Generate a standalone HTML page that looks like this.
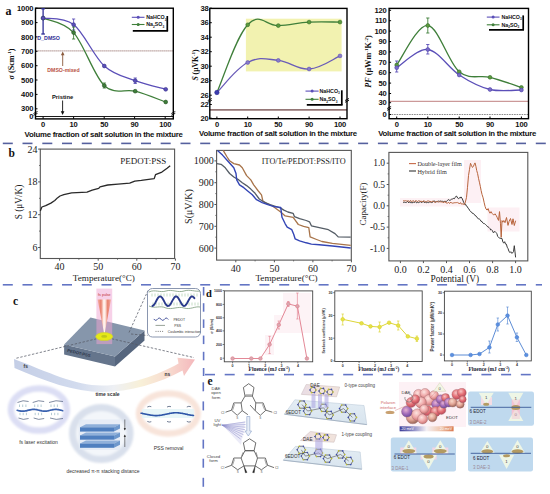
<!DOCTYPE html>
<html><head><meta charset="utf-8"><style>
html,body{margin:0;padding:0;background:#fff;}
body{width:550px;height:494px;overflow:hidden;font-family:"Liberation Sans",sans-serif;}
svg{display:block;}
</style></head><body>
<svg width="550" height="494" viewBox="0 0 550 494">
<rect width="550" height="494" fill="#ffffff"/>
<line x1="2.8" y1="143.4" x2="12.8" y2="143.4" stroke="#55609e" stroke-width="1.60" />
<line x1="22.5" y1="143.4" x2="32.5" y2="143.4" stroke="#55609e" stroke-width="1.60" />
<line x1="42.3" y1="143.4" x2="52.3" y2="143.4" stroke="#55609e" stroke-width="1.60" />
<line x1="62.0" y1="143.4" x2="72.0" y2="143.4" stroke="#55609e" stroke-width="1.60" />
<line x1="81.8" y1="143.4" x2="91.8" y2="143.4" stroke="#55609e" stroke-width="1.60" />
<line x1="101.5" y1="143.4" x2="111.5" y2="143.4" stroke="#55609e" stroke-width="1.60" />
<line x1="121.2" y1="143.4" x2="131.2" y2="143.4" stroke="#55609e" stroke-width="1.60" />
<line x1="141.0" y1="143.4" x2="151.0" y2="143.4" stroke="#55609e" stroke-width="1.60" />
<line x1="160.7" y1="143.4" x2="170.7" y2="143.4" stroke="#55609e" stroke-width="1.60" />
<line x1="180.5" y1="143.4" x2="190.5" y2="143.4" stroke="#55609e" stroke-width="1.60" />
<line x1="200.2" y1="143.4" x2="210.2" y2="143.4" stroke="#55609e" stroke-width="1.60" />
<line x1="219.9" y1="143.4" x2="229.9" y2="143.4" stroke="#55609e" stroke-width="1.60" />
<line x1="239.7" y1="143.4" x2="249.7" y2="143.4" stroke="#55609e" stroke-width="1.60" />
<line x1="259.4" y1="143.4" x2="269.4" y2="143.4" stroke="#55609e" stroke-width="1.60" />
<line x1="279.2" y1="143.4" x2="289.2" y2="143.4" stroke="#55609e" stroke-width="1.60" />
<line x1="298.9" y1="143.4" x2="308.9" y2="143.4" stroke="#55609e" stroke-width="1.60" />
<line x1="318.6" y1="143.4" x2="328.6" y2="143.4" stroke="#55609e" stroke-width="1.60" />
<line x1="338.4" y1="143.4" x2="348.4" y2="143.4" stroke="#55609e" stroke-width="1.60" />
<line x1="358.1" y1="143.4" x2="368.1" y2="143.4" stroke="#55609e" stroke-width="1.60" />
<line x1="377.9" y1="143.4" x2="387.9" y2="143.4" stroke="#55609e" stroke-width="1.60" />
<line x1="397.6" y1="143.4" x2="407.6" y2="143.4" stroke="#55609e" stroke-width="1.60" />
<line x1="417.3" y1="143.4" x2="427.3" y2="143.4" stroke="#55609e" stroke-width="1.60" />
<line x1="437.1" y1="143.4" x2="447.1" y2="143.4" stroke="#55609e" stroke-width="1.60" />
<line x1="456.8" y1="143.4" x2="466.8" y2="143.4" stroke="#55609e" stroke-width="1.60" />
<line x1="476.6" y1="143.4" x2="486.6" y2="143.4" stroke="#55609e" stroke-width="1.60" />
<line x1="496.3" y1="143.4" x2="506.3" y2="143.4" stroke="#55609e" stroke-width="1.60" />
<line x1="516.0" y1="143.4" x2="526.0" y2="143.4" stroke="#55609e" stroke-width="1.60" />
<line x1="535.8" y1="143.4" x2="545.8" y2="143.4" stroke="#55609e" stroke-width="1.60" />
<line x1="2.8" y1="284.8" x2="12.8" y2="284.8" stroke="#6375c4" stroke-width="1.60" />
<line x1="22.5" y1="284.8" x2="32.5" y2="284.8" stroke="#6375c4" stroke-width="1.60" />
<line x1="42.3" y1="284.8" x2="52.3" y2="284.8" stroke="#6375c4" stroke-width="1.60" />
<line x1="62.0" y1="284.8" x2="72.0" y2="284.8" stroke="#6375c4" stroke-width="1.60" />
<line x1="81.8" y1="284.8" x2="91.8" y2="284.8" stroke="#6375c4" stroke-width="1.60" />
<line x1="101.5" y1="284.8" x2="111.5" y2="284.8" stroke="#6375c4" stroke-width="1.60" />
<line x1="121.2" y1="284.8" x2="131.2" y2="284.8" stroke="#6375c4" stroke-width="1.60" />
<line x1="141.0" y1="284.8" x2="151.0" y2="284.8" stroke="#6375c4" stroke-width="1.60" />
<line x1="160.7" y1="284.8" x2="170.7" y2="284.8" stroke="#6375c4" stroke-width="1.60" />
<line x1="180.5" y1="284.8" x2="190.5" y2="284.8" stroke="#6375c4" stroke-width="1.60" />
<line x1="200.2" y1="284.8" x2="210.2" y2="284.8" stroke="#6375c4" stroke-width="1.60" />
<line x1="219.9" y1="284.8" x2="229.9" y2="284.8" stroke="#6375c4" stroke-width="1.60" />
<line x1="239.7" y1="284.8" x2="249.7" y2="284.8" stroke="#6375c4" stroke-width="1.60" />
<line x1="259.4" y1="284.8" x2="269.4" y2="284.8" stroke="#6375c4" stroke-width="1.60" />
<line x1="279.2" y1="284.8" x2="289.2" y2="284.8" stroke="#6375c4" stroke-width="1.60" />
<line x1="298.9" y1="284.8" x2="308.9" y2="284.8" stroke="#6375c4" stroke-width="1.60" />
<line x1="318.6" y1="284.8" x2="328.6" y2="284.8" stroke="#6375c4" stroke-width="1.60" />
<line x1="338.4" y1="284.8" x2="348.4" y2="284.8" stroke="#6375c4" stroke-width="1.60" />
<line x1="358.1" y1="284.8" x2="368.1" y2="284.8" stroke="#6375c4" stroke-width="1.60" />
<line x1="377.9" y1="284.8" x2="387.9" y2="284.8" stroke="#6375c4" stroke-width="1.60" />
<line x1="397.6" y1="284.8" x2="407.6" y2="284.8" stroke="#6375c4" stroke-width="1.60" />
<line x1="417.3" y1="284.8" x2="427.3" y2="284.8" stroke="#6375c4" stroke-width="1.60" />
<line x1="437.1" y1="284.8" x2="447.1" y2="284.8" stroke="#6375c4" stroke-width="1.60" />
<line x1="456.8" y1="284.8" x2="466.8" y2="284.8" stroke="#6375c4" stroke-width="1.60" />
<line x1="476.6" y1="284.8" x2="486.6" y2="284.8" stroke="#6375c4" stroke-width="1.60" />
<line x1="496.3" y1="284.8" x2="506.3" y2="284.8" stroke="#6375c4" stroke-width="1.60" />
<line x1="516.0" y1="284.8" x2="526.0" y2="284.8" stroke="#6375c4" stroke-width="1.60" />
<line x1="535.8" y1="284.8" x2="542.0" y2="284.8" stroke="#6375c4" stroke-width="1.60" />
<line x1="203.6" y1="287.0" x2="203.6" y2="295.5" stroke="#6375c4" stroke-width="1.60" />
<line x1="203.6" y1="303.2" x2="203.6" y2="311.7" stroke="#6375c4" stroke-width="1.60" />
<line x1="203.6" y1="319.4" x2="203.6" y2="327.9" stroke="#6375c4" stroke-width="1.60" />
<line x1="203.6" y1="335.6" x2="203.6" y2="344.1" stroke="#6375c4" stroke-width="1.60" />
<line x1="203.6" y1="351.8" x2="203.6" y2="360.3" stroke="#6375c4" stroke-width="1.60" />
<line x1="203.6" y1="368.0" x2="203.6" y2="376.0" stroke="#6375c4" stroke-width="1.60" />
<line x1="203.3" y1="382.3" x2="203.3" y2="391.3" stroke="#6375c4" stroke-width="1.60" />
<line x1="203.3" y1="401.4" x2="203.3" y2="410.4" stroke="#6375c4" stroke-width="1.60" />
<line x1="203.3" y1="420.5" x2="203.3" y2="429.5" stroke="#6375c4" stroke-width="1.60" />
<line x1="203.3" y1="439.6" x2="203.3" y2="448.6" stroke="#6375c4" stroke-width="1.60" />
<line x1="203.3" y1="458.7" x2="203.3" y2="467.7" stroke="#6375c4" stroke-width="1.60" />
<line x1="203.3" y1="477.8" x2="203.3" y2="486.8" stroke="#6375c4" stroke-width="1.60" />
<line x1="205.0" y1="374.6" x2="215.0" y2="374.6" stroke="#6375c4" stroke-width="1.60" />
<line x1="224.7" y1="374.6" x2="234.7" y2="374.6" stroke="#6375c4" stroke-width="1.60" />
<line x1="244.5" y1="374.6" x2="254.5" y2="374.6" stroke="#6375c4" stroke-width="1.60" />
<line x1="264.2" y1="374.6" x2="274.2" y2="374.6" stroke="#6375c4" stroke-width="1.60" />
<line x1="284.0" y1="374.6" x2="294.0" y2="374.6" stroke="#6375c4" stroke-width="1.60" />
<line x1="303.7" y1="374.6" x2="313.7" y2="374.6" stroke="#6375c4" stroke-width="1.60" />
<line x1="323.4" y1="374.6" x2="333.4" y2="374.6" stroke="#6375c4" stroke-width="1.60" />
<line x1="343.2" y1="374.6" x2="353.2" y2="374.6" stroke="#6375c4" stroke-width="1.60" />
<line x1="362.9" y1="374.6" x2="372.9" y2="374.6" stroke="#6375c4" stroke-width="1.60" />
<line x1="382.7" y1="374.6" x2="392.7" y2="374.6" stroke="#6375c4" stroke-width="1.60" />
<line x1="402.4" y1="374.6" x2="412.4" y2="374.6" stroke="#6375c4" stroke-width="1.60" />
<line x1="422.1" y1="374.6" x2="432.1" y2="374.6" stroke="#6375c4" stroke-width="1.60" />
<line x1="441.9" y1="374.6" x2="451.9" y2="374.6" stroke="#6375c4" stroke-width="1.60" />
<line x1="461.6" y1="374.6" x2="471.6" y2="374.6" stroke="#6375c4" stroke-width="1.60" />
<line x1="481.4" y1="374.6" x2="491.4" y2="374.6" stroke="#6375c4" stroke-width="1.60" />
<line x1="501.1" y1="374.6" x2="511.1" y2="374.6" stroke="#6375c4" stroke-width="1.60" />
<line x1="520.8" y1="374.6" x2="530.8" y2="374.6" stroke="#6375c4" stroke-width="1.60" />
<text x="5.5" y="15.0" font-family="Liberation Serif" font-size="12.00" font-weight="bold" fill="#111" text-anchor="start"  >a</text>
<line x1="35.5" y1="50.9" x2="173.3" y2="50.9" stroke="#a98a86" stroke-width="1.20" stroke-dasharray="1.2,0.8"/>
<line x1="35.5" y1="116.5" x2="173.3" y2="116.5" stroke="#000" stroke-width="0.90" />
<rect x="35.5" y="8.2" width="137.8" height="110.7" fill="none" stroke="#000" stroke-width="1.40" />
<line x1="35.5" y1="108.8" x2="37.5" y2="108.8" stroke="#000" stroke-width="1.00" />
<text x="33.2" y="111.4" font-family="Liberation Sans" font-size="7.60" font-weight="bold" fill="#111" text-anchor="end"  letter-spacing="-0.2">300</text>
<line x1="35.5" y1="94.4" x2="37.5" y2="94.4" stroke="#000" stroke-width="1.00" />
<text x="33.2" y="97.0" font-family="Liberation Sans" font-size="7.60" font-weight="bold" fill="#111" text-anchor="end"  letter-spacing="-0.2">400</text>
<line x1="35.5" y1="80.0" x2="37.5" y2="80.0" stroke="#000" stroke-width="1.00" />
<text x="33.2" y="82.6" font-family="Liberation Sans" font-size="7.60" font-weight="bold" fill="#111" text-anchor="end"  letter-spacing="-0.2">500</text>
<line x1="35.5" y1="65.7" x2="37.5" y2="65.7" stroke="#000" stroke-width="1.00" />
<text x="33.2" y="68.3" font-family="Liberation Sans" font-size="7.60" font-weight="bold" fill="#111" text-anchor="end"  letter-spacing="-0.2">600</text>
<line x1="35.5" y1="51.3" x2="37.5" y2="51.3" stroke="#000" stroke-width="1.00" />
<text x="33.2" y="53.9" font-family="Liberation Sans" font-size="7.60" font-weight="bold" fill="#111" text-anchor="end"  letter-spacing="-0.2">700</text>
<line x1="35.5" y1="36.9" x2="37.5" y2="36.9" stroke="#000" stroke-width="1.00" />
<text x="33.2" y="39.5" font-family="Liberation Sans" font-size="7.60" font-weight="bold" fill="#111" text-anchor="end"  letter-spacing="-0.2">800</text>
<line x1="35.5" y1="22.6" x2="37.5" y2="22.6" stroke="#000" stroke-width="1.00" />
<text x="33.2" y="25.2" font-family="Liberation Sans" font-size="7.60" font-weight="bold" fill="#111" text-anchor="end"  letter-spacing="-0.2">900</text>
<line x1="35.5" y1="8.2" x2="37.5" y2="8.2" stroke="#000" stroke-width="1.00" />
<text x="33.2" y="10.8" font-family="Liberation Sans" font-size="7.60" font-weight="bold" fill="#111" text-anchor="end"  letter-spacing="-0.2">1000</text>
<text x="33.2" y="119.1" font-family="Liberation Sans" font-size="7.60" font-weight="bold" fill="#111" text-anchor="end"  letter-spacing="-0.2">0</text>
<line x1="43.1" y1="118.9" x2="43.1" y2="116.7" stroke="#000" stroke-width="1.00" />
<text x="43.1" y="127.0" font-family="Liberation Sans" font-size="7.60" font-weight="bold" fill="#111" text-anchor="middle"  letter-spacing="-0.2">0</text>
<line x1="73.6" y1="118.9" x2="73.6" y2="116.7" stroke="#000" stroke-width="1.00" />
<text x="73.6" y="127.0" font-family="Liberation Sans" font-size="7.60" font-weight="bold" fill="#111" text-anchor="middle"  letter-spacing="-0.2">10</text>
<line x1="104.2" y1="118.9" x2="104.2" y2="116.7" stroke="#000" stroke-width="1.00" />
<text x="104.2" y="127.0" font-family="Liberation Sans" font-size="7.60" font-weight="bold" fill="#111" text-anchor="middle"  letter-spacing="-0.2">50</text>
<line x1="134.6" y1="118.9" x2="134.6" y2="116.7" stroke="#000" stroke-width="1.00" />
<text x="134.6" y="127.0" font-family="Liberation Sans" font-size="7.60" font-weight="bold" fill="#111" text-anchor="middle"  letter-spacing="-0.2">90</text>
<line x1="165.2" y1="118.9" x2="165.2" y2="116.7" stroke="#000" stroke-width="1.00" />
<text x="165.2" y="127.0" font-family="Liberation Sans" font-size="7.60" font-weight="bold" fill="#111" text-anchor="middle"  letter-spacing="-0.2">100</text>
<line x1="33.5" y1="113.5" x2="37.5" y2="111.5" stroke="#000" stroke-width="0.90" />
<line x1="33.5" y1="115.3" x2="37.5" y2="113.3" stroke="#000" stroke-width="0.90" />
<line x1="171.3" y1="113.5" x2="175.3" y2="111.5" stroke="#000" stroke-width="0.90" />
<line x1="171.3" y1="115.3" x2="175.3" y2="113.3" stroke="#000" stroke-width="0.90" />
<path d="M43.1,18.1 C48.2,20.5 63.4,21.4 73.6,32.6 C83.8,43.9 94.0,75.8 104.3,85.6 C114.6,95.4 125.0,88.5 135.2,91.2 C145.4,93.9 160.6,100.2 165.7,102.0" fill="none" stroke="#3f7f3a" stroke-width="1.30" />
<path d="M43.1,18.1 C48.2,19.2 63.4,16.6 73.6,24.6 C83.8,32.6 94.0,56.6 104.3,66.0 C114.6,75.3 125.0,76.8 135.2,80.7 C145.4,84.6 160.6,87.9 165.7,89.3" fill="none" stroke="#5b4fb8" stroke-width="1.30" />
<line x1="43.1" y1="8.8" x2="43.1" y2="34.0" stroke="#2e2e96" stroke-width="1.30" />
<line x1="41.3" y1="8.8" x2="44.9" y2="8.8" stroke="#2e2e96" stroke-width="1.30" />
<line x1="41.3" y1="34.0" x2="44.9" y2="34.0" stroke="#2e2e96" stroke-width="1.30" />
<line x1="73.6" y1="19.0" x2="73.6" y2="30.0" stroke="#5b4fb8" stroke-width="0.90" />
<line x1="72.0" y1="19.0" x2="75.2" y2="19.0" stroke="#5b4fb8" stroke-width="0.90" />
<line x1="72.0" y1="30.0" x2="75.2" y2="30.0" stroke="#5b4fb8" stroke-width="0.90" />
<line x1="73.6" y1="27.0" x2="73.6" y2="39.0" stroke="#3f7f3a" stroke-width="0.90" />
<line x1="72.0" y1="27.0" x2="75.2" y2="27.0" stroke="#3f7f3a" stroke-width="0.90" />
<line x1="72.0" y1="39.0" x2="75.2" y2="39.0" stroke="#3f7f3a" stroke-width="0.90" />
<line x1="135.2" y1="78.0" x2="135.2" y2="83.5" stroke="#5b4fb8" stroke-width="0.90" />
<line x1="133.6" y1="78.0" x2="136.8" y2="78.0" stroke="#5b4fb8" stroke-width="0.90" />
<line x1="133.6" y1="83.5" x2="136.8" y2="83.5" stroke="#5b4fb8" stroke-width="0.90" />
<line x1="104.3" y1="83.0" x2="104.3" y2="88.0" stroke="#3f7f3a" stroke-width="0.90" />
<line x1="102.7" y1="83.0" x2="105.9" y2="83.0" stroke="#3f7f3a" stroke-width="0.90" />
<line x1="102.7" y1="88.0" x2="105.9" y2="88.0" stroke="#3f7f3a" stroke-width="0.90" />
<circle cx="43.1" cy="18.1" r="1.9" fill="#3f7f3a" stroke="#234d22" stroke-width="0.60" />
<circle cx="73.6" cy="32.6" r="1.9" fill="#3f7f3a" stroke="#234d22" stroke-width="0.60" />
<circle cx="104.3" cy="85.6" r="1.9" fill="#3f7f3a" stroke="#234d22" stroke-width="0.60" />
<circle cx="135.2" cy="91.2" r="1.9" fill="#3f7f3a" stroke="#234d22" stroke-width="0.60" />
<circle cx="165.7" cy="102.0" r="1.9" fill="#3f7f3a" stroke="#234d22" stroke-width="0.60" />
<circle cx="43.1" cy="18.1" r="1.9" fill="#5b4fb8" stroke="#35308a" stroke-width="0.60" />
<circle cx="73.6" cy="24.6" r="1.9" fill="#5b4fb8" stroke="#35308a" stroke-width="0.60" />
<circle cx="104.3" cy="66.0" r="1.9" fill="#5b4fb8" stroke="#35308a" stroke-width="0.60" />
<circle cx="135.2" cy="80.7" r="1.9" fill="#5b4fb8" stroke="#35308a" stroke-width="0.60" />
<circle cx="165.7" cy="89.3" r="1.9" fill="#5b4fb8" stroke="#35308a" stroke-width="0.60" />
<text x="37.3" y="39.6" font-family="Liberation Sans" font-size="5.30" font-weight="bold" fill="#2e2e96" text-anchor="start"  >D_DMSO</text>
<line x1="62.7" y1="66.0" x2="62.7" y2="53.5" stroke="#8b5a3c" stroke-width="0.90" />
<path d="M60.9,55.2 L62.7,51.6 L64.5,55.2 Z" fill="#8b5a3c" stroke="none" stroke-width="1.00" />
<text x="63.5" y="71.8" font-family="Liberation Sans" font-size="5.20" font-weight="bold" fill="#b8503f" text-anchor="middle"  >DMSO-mixed</text>
<text x="62.6" y="98.8" font-family="Liberation Sans" font-size="5.80" font-weight="bold" fill="#111" text-anchor="middle"  >Pristine</text>
<line x1="62.6" y1="100.5" x2="62.6" y2="112.5" stroke="#111" stroke-width="0.90" />
<path d="M60.8,111.2 L62.6,115 L64.4,111.2 Z" fill="#111" stroke="none" stroke-width="1.00" />
<line x1="132.8" y1="30.9" x2="168.1" y2="30.9" stroke="#000" stroke-width="1.70" />
<line x1="167.3" y1="16.0" x2="167.3" y2="30.9" stroke="#000" stroke-width="1.70" />
<line x1="131.8" y1="17.3" x2="144.5" y2="17.3" stroke="#5b4fb8" stroke-width="1.10" />
<circle cx="138.2" cy="17.3" r="1.5" fill="#5b4fb8" stroke="none" stroke-width="1.00" />
<text x="146.2" y="19.2" font-family="Liberation Sans" font-size="5.30" font-weight="bold" fill="#111" text-anchor="start"  >NaHCO<tspan font-size="3.2" dy="1.3">3</tspan></text>
<line x1="131.8" y1="24.5" x2="144.5" y2="24.5" stroke="#3f7f3a" stroke-width="1.10" />
<circle cx="138.2" cy="24.5" r="1.5" fill="#3f7f3a" stroke="none" stroke-width="1.00" />
<text x="146.2" y="26.4" font-family="Liberation Sans" font-size="5.30" font-weight="bold" fill="#111" text-anchor="start"  >Na<tspan font-size="3.2" dy="1.3">2</tspan><tspan dy="-1.3">SO</tspan><tspan font-size="3.2" dy="1.3">3</tspan></text>
<text transform="translate(14.2,64) rotate(-90)" font-family="Liberation Serif" font-size="8.2" font-weight="bold" fill="#111" text-anchor="middle"><tspan font-style="italic">σ</tspan> (Scm<tspan font-size="5" dy="-3">-1</tspan><tspan dy="3">)</tspan></text>
<text x="24.6" y="136.5" font-family="Liberation Sans" font-size="7.80" font-weight="bold" fill="#111" text-anchor="start"  letter-spacing="-0.24">Volume fraction of salt solution in the mixture</text>
<rect x="245.9" y="18.7" width="95.7" height="52.7" fill="#f2f2b0" stroke="none" stroke-width="1.00" />
<line x1="209.8" y1="109.9" x2="347.0" y2="109.9" stroke="#957676" stroke-width="1.60" />
<rect x="209.8" y="8.4" width="137.2" height="110.3" fill="none" stroke="#000" stroke-width="1.40" />
<line x1="209.8" y1="95.2" x2="211.8" y2="95.2" stroke="#000" stroke-width="1.00" />
<text x="208.5" y="97.8" font-family="Liberation Sans" font-size="7.60" font-weight="bold" fill="#111" text-anchor="end"  letter-spacing="-0.2">26</text>
<line x1="209.8" y1="80.7" x2="211.8" y2="80.7" stroke="#000" stroke-width="1.00" />
<text x="208.5" y="83.3" font-family="Liberation Sans" font-size="7.60" font-weight="bold" fill="#111" text-anchor="end"  letter-spacing="-0.2">28</text>
<line x1="209.8" y1="66.2" x2="211.8" y2="66.2" stroke="#000" stroke-width="1.00" />
<text x="208.5" y="68.8" font-family="Liberation Sans" font-size="7.60" font-weight="bold" fill="#111" text-anchor="end"  letter-spacing="-0.2">30</text>
<line x1="209.8" y1="51.7" x2="211.8" y2="51.7" stroke="#000" stroke-width="1.00" />
<text x="208.5" y="54.3" font-family="Liberation Sans" font-size="7.60" font-weight="bold" fill="#111" text-anchor="end"  letter-spacing="-0.2">32</text>
<line x1="209.8" y1="37.2" x2="211.8" y2="37.2" stroke="#000" stroke-width="1.00" />
<text x="208.5" y="39.8" font-family="Liberation Sans" font-size="7.60" font-weight="bold" fill="#111" text-anchor="end"  letter-spacing="-0.2">34</text>
<line x1="209.8" y1="22.7" x2="211.8" y2="22.7" stroke="#000" stroke-width="1.00" />
<text x="208.5" y="25.3" font-family="Liberation Sans" font-size="7.60" font-weight="bold" fill="#111" text-anchor="end"  letter-spacing="-0.2">36</text>
<line x1="209.8" y1="8.2" x2="211.8" y2="8.2" stroke="#000" stroke-width="1.00" />
<text x="208.5" y="10.8" font-family="Liberation Sans" font-size="7.60" font-weight="bold" fill="#111" text-anchor="end"  letter-spacing="-0.2">38</text>
<line x1="209.8" y1="104.5" x2="211.8" y2="104.5" stroke="#000" stroke-width="1.00" />
<text x="208.5" y="107.1" font-family="Liberation Sans" font-size="7.60" font-weight="bold" fill="#111" text-anchor="end"  letter-spacing="-0.2">22</text>
<line x1="209.8" y1="118.2" x2="211.8" y2="118.2" stroke="#000" stroke-width="1.00" />
<text x="208.5" y="120.8" font-family="Liberation Sans" font-size="7.60" font-weight="bold" fill="#111" text-anchor="end"  letter-spacing="-0.2">20</text>
<line x1="216.9" y1="118.7" x2="216.9" y2="116.5" stroke="#000" stroke-width="1.00" />
<text x="216.9" y="127.0" font-family="Liberation Sans" font-size="7.60" font-weight="bold" fill="#111" text-anchor="middle"  letter-spacing="-0.2">0</text>
<line x1="247.7" y1="118.7" x2="247.7" y2="116.5" stroke="#000" stroke-width="1.00" />
<text x="247.7" y="127.0" font-family="Liberation Sans" font-size="7.60" font-weight="bold" fill="#111" text-anchor="middle"  letter-spacing="-0.2">10</text>
<line x1="278.3" y1="118.7" x2="278.3" y2="116.5" stroke="#000" stroke-width="1.00" />
<text x="278.3" y="127.0" font-family="Liberation Sans" font-size="7.60" font-weight="bold" fill="#111" text-anchor="middle"  letter-spacing="-0.2">50</text>
<line x1="309.1" y1="118.7" x2="309.1" y2="116.5" stroke="#000" stroke-width="1.00" />
<text x="309.1" y="127.0" font-family="Liberation Sans" font-size="7.60" font-weight="bold" fill="#111" text-anchor="middle"  letter-spacing="-0.2">90</text>
<line x1="340.0" y1="118.7" x2="340.0" y2="116.5" stroke="#000" stroke-width="1.00" />
<text x="340.0" y="127.0" font-family="Liberation Sans" font-size="7.60" font-weight="bold" fill="#111" text-anchor="middle"  letter-spacing="-0.2">100</text>
<line x1="207.8" y1="100.5" x2="211.8" y2="98.5" stroke="#000" stroke-width="0.90" />
<line x1="207.8" y1="102.3" x2="211.8" y2="100.3" stroke="#000" stroke-width="0.90" />
<line x1="345.0" y1="100.5" x2="349.0" y2="98.5" stroke="#000" stroke-width="0.90" />
<line x1="345.0" y1="102.3" x2="349.0" y2="100.3" stroke="#000" stroke-width="0.90" />
<path d="M216.9,92.5 C223.1,79.0 235.4,38.2 247.7,24.8 C260.0,11.4 266.0,26.1 278.3,25.6 C290.6,25.1 296.8,22.8 309.1,22.1 C321.4,21.4 333.8,22.1 340.0,22.1" fill="none" stroke="#3f7f3a" stroke-width="1.30" />
<path d="M216.9,92.5 C223.1,86.5 235.4,68.9 247.7,62.5 C260.0,56.1 266.0,59.1 278.3,60.4 C290.6,61.7 296.8,69.9 309.1,69.0 C321.4,68.1 333.8,58.5 340.0,55.9" fill="none" stroke="#6a5cb8" stroke-width="1.30" />
<circle cx="247.7" cy="24.8" r="1.9" fill="#5c9a3c" stroke="#2f6a2a" stroke-width="0.60" />
<circle cx="278.3" cy="25.6" r="1.9" fill="#5c9a3c" stroke="#2f6a2a" stroke-width="0.60" />
<circle cx="309.1" cy="22.1" r="1.9" fill="#5c9a3c" stroke="#2f6a2a" stroke-width="0.60" />
<circle cx="340.0" cy="22.1" r="1.9" fill="#5c9a3c" stroke="#2f6a2a" stroke-width="0.60" />
<circle cx="247.7" cy="62.5" r="1.9" fill="#8a7cc8" stroke="#5b4fb8" stroke-width="0.60" />
<circle cx="278.3" cy="60.4" r="1.9" fill="#8a7cc8" stroke="#5b4fb8" stroke-width="0.60" />
<circle cx="309.1" cy="69.0" r="1.9" fill="#8a7cc8" stroke="#5b4fb8" stroke-width="0.60" />
<circle cx="340.0" cy="55.9" r="1.9" fill="#8a7cc8" stroke="#5b4fb8" stroke-width="0.60" />
<circle cx="216.9" cy="92.5" r="2.2" fill="#3c3cb0" stroke="#2a2a90" stroke-width="0.60" />
<line x1="306.8" y1="104.8" x2="342.6" y2="104.8" stroke="#000" stroke-width="1.70" />
<line x1="341.8" y1="90.3" x2="341.8" y2="104.8" stroke="#000" stroke-width="1.70" />
<line x1="305.5" y1="91.1" x2="318.6" y2="91.1" stroke="#5b4fb8" stroke-width="1.10" />
<circle cx="312.1" cy="91.1" r="1.5" fill="#5b4fb8" stroke="none" stroke-width="1.00" />
<text x="319.5" y="93.0" font-family="Liberation Sans" font-size="5.30" font-weight="bold" fill="#111" text-anchor="start"  >NaHCO<tspan font-size="3.2" dy="1.3">3</tspan></text>
<line x1="305.5" y1="99.3" x2="318.6" y2="99.3" stroke="#3f7f3a" stroke-width="1.10" />
<circle cx="312.1" cy="99.3" r="1.5" fill="#3f7f3a" stroke="none" stroke-width="1.00" />
<text x="319.5" y="101.2" font-family="Liberation Sans" font-size="5.30" font-weight="bold" fill="#111" text-anchor="start"  >Na<tspan font-size="3.2" dy="1.3">2</tspan><tspan dy="-1.3">SO</tspan><tspan font-size="3.2" dy="1.3">3</tspan></text>
<text transform="translate(198.3,65) rotate(-90)" font-family="Liberation Serif" font-size="7.6" font-weight="bold" fill="#111" text-anchor="middle"><tspan font-style="italic">S</tspan> (μVK<tspan font-size="5" dy="-3">-1</tspan><tspan dy="3">)</tspan></text>
<text x="199.0" y="136.4" font-family="Liberation Sans" font-size="7.80" font-weight="bold" fill="#111" text-anchor="start"  letter-spacing="-0.24">Volume fraction of salt solution in the mixture</text>
<line x1="389.1" y1="101.3" x2="528.5" y2="101.3" stroke="#c08080" stroke-width="1.00" />
<line x1="389.1" y1="114.5" x2="528.5" y2="114.5" stroke="#8a8a8a" stroke-width="1.20" stroke-dasharray="1.6,0.9"/>
<rect x="389.1" y="8.4" width="139.4" height="110.3" fill="none" stroke="#000" stroke-width="1.40" />
<line x1="389.1" y1="102.7" x2="391.1" y2="102.7" stroke="#000" stroke-width="1.00" />
<text x="386.6" y="105.3" font-family="Liberation Sans" font-size="7.60" font-weight="bold" fill="#111" text-anchor="end"  letter-spacing="-0.2">30</text>
<line x1="389.1" y1="93.5" x2="391.1" y2="93.5" stroke="#000" stroke-width="1.00" />
<text x="386.6" y="96.1" font-family="Liberation Sans" font-size="7.60" font-weight="bold" fill="#111" text-anchor="end"  letter-spacing="-0.2">40</text>
<line x1="389.1" y1="83.1" x2="391.1" y2="83.1" stroke="#000" stroke-width="1.00" />
<text x="386.6" y="85.7" font-family="Liberation Sans" font-size="7.60" font-weight="bold" fill="#111" text-anchor="end"  letter-spacing="-0.2">50</text>
<line x1="389.1" y1="72.7" x2="391.1" y2="72.7" stroke="#000" stroke-width="1.00" />
<text x="386.6" y="75.3" font-family="Liberation Sans" font-size="7.60" font-weight="bold" fill="#111" text-anchor="end"  letter-spacing="-0.2">60</text>
<line x1="389.1" y1="62.3" x2="391.1" y2="62.3" stroke="#000" stroke-width="1.00" />
<text x="386.6" y="64.9" font-family="Liberation Sans" font-size="7.60" font-weight="bold" fill="#111" text-anchor="end"  letter-spacing="-0.2">70</text>
<line x1="389.1" y1="51.9" x2="391.1" y2="51.9" stroke="#000" stroke-width="1.00" />
<text x="386.6" y="54.5" font-family="Liberation Sans" font-size="7.60" font-weight="bold" fill="#111" text-anchor="end"  letter-spacing="-0.2">80</text>
<line x1="389.1" y1="41.5" x2="391.1" y2="41.5" stroke="#000" stroke-width="1.00" />
<text x="386.6" y="44.1" font-family="Liberation Sans" font-size="7.60" font-weight="bold" fill="#111" text-anchor="end"  letter-spacing="-0.2">90</text>
<line x1="389.1" y1="31.1" x2="391.1" y2="31.1" stroke="#000" stroke-width="1.00" />
<text x="386.6" y="33.7" font-family="Liberation Sans" font-size="7.60" font-weight="bold" fill="#111" text-anchor="end"  letter-spacing="-0.2">100</text>
<line x1="389.1" y1="20.7" x2="391.1" y2="20.7" stroke="#000" stroke-width="1.00" />
<text x="386.6" y="23.3" font-family="Liberation Sans" font-size="7.60" font-weight="bold" fill="#111" text-anchor="end"  letter-spacing="-0.2">110</text>
<line x1="389.1" y1="10.3" x2="391.1" y2="10.3" stroke="#000" stroke-width="1.00" />
<text x="386.6" y="12.9" font-family="Liberation Sans" font-size="7.60" font-weight="bold" fill="#111" text-anchor="end"  letter-spacing="-0.2">120</text>
<line x1="389.1" y1="114.5" x2="391.1" y2="114.5" stroke="#000" stroke-width="1.00" />
<text x="386.6" y="117.1" font-family="Liberation Sans" font-size="7.60" font-weight="bold" fill="#111" text-anchor="end"  letter-spacing="-0.2">0</text>
<line x1="387.1" y1="108.5" x2="391.1" y2="106.5" stroke="#000" stroke-width="0.90" />
<line x1="387.1" y1="110.3" x2="391.1" y2="108.3" stroke="#000" stroke-width="0.90" />
<line x1="396.7" y1="118.7" x2="396.7" y2="116.5" stroke="#000" stroke-width="1.00" />
<text x="396.7" y="127.0" font-family="Liberation Sans" font-size="7.60" font-weight="bold" fill="#111" text-anchor="middle"  letter-spacing="-0.2">0</text>
<line x1="427.8" y1="118.7" x2="427.8" y2="116.5" stroke="#000" stroke-width="1.00" />
<text x="427.8" y="127.0" font-family="Liberation Sans" font-size="7.60" font-weight="bold" fill="#111" text-anchor="middle"  letter-spacing="-0.2">10</text>
<line x1="459.2" y1="118.7" x2="459.2" y2="116.5" stroke="#000" stroke-width="1.00" />
<text x="459.2" y="127.0" font-family="Liberation Sans" font-size="7.60" font-weight="bold" fill="#111" text-anchor="middle"  letter-spacing="-0.2">50</text>
<line x1="490.0" y1="118.7" x2="490.0" y2="116.5" stroke="#000" stroke-width="1.00" />
<text x="490.0" y="127.0" font-family="Liberation Sans" font-size="7.60" font-weight="bold" fill="#111" text-anchor="middle"  letter-spacing="-0.2">90</text>
<line x1="521.4" y1="118.7" x2="521.4" y2="116.5" stroke="#000" stroke-width="1.00" />
<text x="521.4" y="127.0" font-family="Liberation Sans" font-size="7.60" font-weight="bold" fill="#111" text-anchor="middle"  letter-spacing="-0.2">100</text>
<path d="M396.7,65.0 C401.9,58.4 417.4,24.4 427.8,25.5 C438.2,26.6 448.8,63.2 459.2,71.8 C469.6,80.4 479.6,74.7 490.0,77.3 C500.4,79.9 516.2,85.7 521.4,87.4" fill="none" stroke="#3f7f3a" stroke-width="1.30" />
<path d="M396.7,67.7 C401.9,64.7 417.4,48.3 427.8,49.5 C438.2,50.7 448.8,68.3 459.2,75.0 C469.6,81.7 479.6,87.0 490.0,89.5 C500.4,92.0 516.2,89.9 521.4,90.0" fill="none" stroke="#5b4fb8" stroke-width="1.30" />
<line x1="427.8" y1="18.0" x2="427.8" y2="33.0" stroke="#3f7f3a" stroke-width="0.90" />
<line x1="426.2" y1="18.0" x2="429.4" y2="18.0" stroke="#3f7f3a" stroke-width="0.90" />
<line x1="426.2" y1="33.0" x2="429.4" y2="33.0" stroke="#3f7f3a" stroke-width="0.90" />
<line x1="427.8" y1="44.5" x2="427.8" y2="54.0" stroke="#5b4fb8" stroke-width="0.90" />
<line x1="426.2" y1="44.5" x2="429.4" y2="44.5" stroke="#5b4fb8" stroke-width="0.90" />
<line x1="426.2" y1="54.0" x2="429.4" y2="54.0" stroke="#5b4fb8" stroke-width="0.90" />
<line x1="396.7" y1="61.0" x2="396.7" y2="72.0" stroke="#5b4fb8" stroke-width="0.90" />
<line x1="395.1" y1="61.0" x2="398.3" y2="61.0" stroke="#5b4fb8" stroke-width="0.90" />
<line x1="395.1" y1="72.0" x2="398.3" y2="72.0" stroke="#5b4fb8" stroke-width="0.90" />
<circle cx="396.7" cy="65.0" r="1.9" fill="#5c9a3c" stroke="#2f6a2a" stroke-width="0.60" />
<circle cx="427.8" cy="25.5" r="1.9" fill="#5c9a3c" stroke="#2f6a2a" stroke-width="0.60" />
<circle cx="459.2" cy="71.8" r="1.9" fill="#5c9a3c" stroke="#2f6a2a" stroke-width="0.60" />
<circle cx="490.0" cy="77.3" r="1.9" fill="#5c9a3c" stroke="#2f6a2a" stroke-width="0.60" />
<circle cx="521.4" cy="87.4" r="1.9" fill="#5c9a3c" stroke="#2f6a2a" stroke-width="0.60" />
<circle cx="396.7" cy="67.7" r="1.9" fill="#7a6cc8" stroke="#4b3fa8" stroke-width="0.60" />
<circle cx="427.8" cy="49.5" r="1.9" fill="#7a6cc8" stroke="#4b3fa8" stroke-width="0.60" />
<circle cx="459.2" cy="75.0" r="1.9" fill="#7a6cc8" stroke="#4b3fa8" stroke-width="0.60" />
<circle cx="490.0" cy="89.5" r="1.9" fill="#7a6cc8" stroke="#4b3fa8" stroke-width="0.60" />
<circle cx="521.4" cy="90.0" r="1.9" fill="#7a6cc8" stroke="#4b3fa8" stroke-width="0.60" />
<line x1="489.0" y1="29.8" x2="524.0" y2="29.8" stroke="#000" stroke-width="1.70" />
<line x1="523.2" y1="15.4" x2="523.2" y2="29.8" stroke="#000" stroke-width="1.70" />
<line x1="486.8" y1="17.1" x2="499.5" y2="17.1" stroke="#5b4fb8" stroke-width="1.10" />
<circle cx="493.1" cy="17.1" r="1.5" fill="#5b4fb8" stroke="none" stroke-width="1.00" />
<text x="501.4" y="19.0" font-family="Liberation Sans" font-size="5.30" font-weight="bold" fill="#111" text-anchor="start"  >NaHCO<tspan font-size="3.2" dy="1.3">3</tspan></text>
<line x1="486.8" y1="24.8" x2="499.5" y2="24.8" stroke="#3f7f3a" stroke-width="1.10" />
<circle cx="493.1" cy="24.8" r="1.5" fill="#3f7f3a" stroke="none" stroke-width="1.00" />
<text x="501.4" y="26.7" font-family="Liberation Sans" font-size="5.30" font-weight="bold" fill="#111" text-anchor="start"  >Na<tspan font-size="3.2" dy="1.3">2</tspan><tspan dy="-1.3">SO</tspan><tspan font-size="3.2" dy="1.3">3</tspan></text>
<text transform="translate(370.5,61.5) rotate(-90)" font-family="Liberation Serif" font-size="8.2" font-weight="bold" fill="#111" text-anchor="middle"><tspan font-style="italic">PF</tspan> (μWm<tspan font-size="5" dy="-3">-1</tspan><tspan dy="3">K</tspan><tspan font-size="5" dy="-3">-2</tspan><tspan dy="3">)</tspan></text>
<text x="378.2" y="136.4" font-family="Liberation Sans" font-size="7.80" font-weight="bold" fill="#111" text-anchor="start"  letter-spacing="-0.24">Volume fraction of salt solution in the mixture</text>
<text x="8.5" y="156.5" font-family="Liberation Serif" font-size="11.50" font-weight="bold" fill="#111" text-anchor="start"  >b</text>
<rect x="40.3" y="149.1" width="134.3" height="109.4" fill="none" stroke="#555" stroke-width="1.10" />
<line x1="38.1" y1="149.1" x2="40.3" y2="149.1" stroke="#555" stroke-width="1.00" />
<text x="37.5" y="152.5" font-family="Liberation Serif" font-size="10.00" font-weight="normal" fill="#222" text-anchor="end"  >24</text>
<line x1="38.1" y1="181.9" x2="40.3" y2="181.9" stroke="#555" stroke-width="1.00" />
<text x="37.5" y="185.3" font-family="Liberation Serif" font-size="10.00" font-weight="normal" fill="#222" text-anchor="end"  >18</text>
<line x1="38.1" y1="214.7" x2="40.3" y2="214.7" stroke="#555" stroke-width="1.00" />
<text x="37.5" y="218.1" font-family="Liberation Serif" font-size="10.00" font-weight="normal" fill="#222" text-anchor="end"  >12</text>
<line x1="38.1" y1="247.5" x2="40.3" y2="247.5" stroke="#555" stroke-width="1.00" />
<text x="37.5" y="250.9" font-family="Liberation Serif" font-size="10.00" font-weight="normal" fill="#222" text-anchor="end"  >6</text>
<line x1="39.0" y1="165.5" x2="40.3" y2="165.5" stroke="#555" stroke-width="0.80" />
<line x1="39.0" y1="198.3" x2="40.3" y2="198.3" stroke="#555" stroke-width="0.80" />
<line x1="39.0" y1="231.1" x2="40.3" y2="231.1" stroke="#555" stroke-width="0.80" />
<line x1="59.6" y1="258.5" x2="59.6" y2="260.7" stroke="#555" stroke-width="1.00" />
<text x="59.6" y="270.2" font-family="Liberation Serif" font-size="10.00" font-weight="normal" fill="#222" text-anchor="middle"  >40</text>
<line x1="98.2" y1="258.5" x2="98.2" y2="260.7" stroke="#555" stroke-width="1.00" />
<text x="98.2" y="270.2" font-family="Liberation Serif" font-size="10.00" font-weight="normal" fill="#222" text-anchor="middle"  >50</text>
<line x1="136.8" y1="258.5" x2="136.8" y2="260.7" stroke="#555" stroke-width="1.00" />
<text x="136.8" y="270.2" font-family="Liberation Serif" font-size="10.00" font-weight="normal" fill="#222" text-anchor="middle"  >60</text>
<line x1="175.4" y1="258.5" x2="175.4" y2="260.7" stroke="#555" stroke-width="1.00" />
<text x="175.4" y="270.2" font-family="Liberation Serif" font-size="10.00" font-weight="normal" fill="#222" text-anchor="middle"  >70</text>
<line x1="78.9" y1="258.5" x2="78.9" y2="259.8" stroke="#555" stroke-width="0.80" />
<line x1="117.5" y1="258.5" x2="117.5" y2="259.8" stroke="#555" stroke-width="0.80" />
<line x1="156.1" y1="258.5" x2="156.1" y2="259.8" stroke="#555" stroke-width="0.80" />
<path d="M40.3,211.0 L41.9,207.0 L45.7,205.7 L50.9,203.1 L54.8,200.5 L57.4,197.9 L60.0,196.0 L63.8,194.6 L71.6,192.8 L87.0,192.2 L92.2,190.2 L98.7,188.4 L100.0,186.8 L107.7,185.0 L118.0,184.2 L129.7,183.2 L134.8,181.1 L141.3,180.4 L154.2,178.6 L155.5,174.7 L161.9,172.1 L167.1,168.2 L170.2,165.7" fill="none" stroke="#2a2a2a" stroke-width="1.30" stroke-linejoin="round"/>
<text x="120.2" y="164.0" font-family="Liberation Serif" font-size="9.00" font-weight="normal" fill="#222" text-anchor="start"  >PEDOT:PSS</text>
<text transform="translate(22.3,202) rotate(-90)" font-family="Liberation Serif" font-size="9.3" fill="#222" text-anchor="middle">S (μV/K)</text>
<text x="72.7" y="281.0" font-family="Liberation Serif" font-size="9.20" font-weight="normal" fill="#222" text-anchor="start"  >Temperature(°C)</text>
<rect x="216.6" y="150.4" width="134.7" height="109.7" fill="none" stroke="#555" stroke-width="1.10" />
<line x1="214.4" y1="160.9" x2="216.6" y2="160.9" stroke="#555" stroke-width="1.00" />
<text x="213.8" y="164.3" font-family="Liberation Serif" font-size="10.00" font-weight="normal" fill="#222" text-anchor="end"  >1000</text>
<line x1="214.4" y1="182.7" x2="216.6" y2="182.7" stroke="#555" stroke-width="1.00" />
<text x="213.8" y="186.1" font-family="Liberation Serif" font-size="10.00" font-weight="normal" fill="#222" text-anchor="end"  >900</text>
<line x1="214.4" y1="204.5" x2="216.6" y2="204.5" stroke="#555" stroke-width="1.00" />
<text x="213.8" y="207.9" font-family="Liberation Serif" font-size="10.00" font-weight="normal" fill="#222" text-anchor="end"  >800</text>
<line x1="214.4" y1="226.3" x2="216.6" y2="226.3" stroke="#555" stroke-width="1.00" />
<text x="213.8" y="229.7" font-family="Liberation Serif" font-size="10.00" font-weight="normal" fill="#222" text-anchor="end"  >700</text>
<line x1="214.4" y1="248.1" x2="216.6" y2="248.1" stroke="#555" stroke-width="1.00" />
<text x="213.8" y="251.5" font-family="Liberation Serif" font-size="10.00" font-weight="normal" fill="#222" text-anchor="end"  >600</text>
<line x1="215.3" y1="171.8" x2="216.6" y2="171.8" stroke="#555" stroke-width="0.80" />
<line x1="215.3" y1="193.6" x2="216.6" y2="193.6" stroke="#555" stroke-width="0.80" />
<line x1="215.3" y1="215.4" x2="216.6" y2="215.4" stroke="#555" stroke-width="0.80" />
<line x1="215.3" y1="237.2" x2="216.6" y2="237.2" stroke="#555" stroke-width="0.80" />
<line x1="235.8" y1="260.1" x2="235.8" y2="262.3" stroke="#555" stroke-width="1.00" />
<text x="235.8" y="271.8" font-family="Liberation Serif" font-size="10.00" font-weight="normal" fill="#222" text-anchor="middle"  >40</text>
<line x1="274.4" y1="260.1" x2="274.4" y2="262.3" stroke="#555" stroke-width="1.00" />
<text x="274.4" y="271.8" font-family="Liberation Serif" font-size="10.00" font-weight="normal" fill="#222" text-anchor="middle"  >50</text>
<line x1="312.9" y1="260.1" x2="312.9" y2="262.3" stroke="#555" stroke-width="1.00" />
<text x="312.9" y="271.8" font-family="Liberation Serif" font-size="10.00" font-weight="normal" fill="#222" text-anchor="middle"  >60</text>
<line x1="351.4" y1="260.1" x2="351.4" y2="262.3" stroke="#555" stroke-width="1.00" />
<text x="351.4" y="271.8" font-family="Liberation Serif" font-size="10.00" font-weight="normal" fill="#222" text-anchor="middle"  >70</text>
<line x1="255.1" y1="260.1" x2="255.1" y2="261.4" stroke="#555" stroke-width="0.80" />
<line x1="293.6" y1="260.1" x2="293.6" y2="261.4" stroke="#555" stroke-width="0.80" />
<line x1="332.1" y1="260.1" x2="332.1" y2="261.4" stroke="#555" stroke-width="0.80" />
<path d="M223.2,150.4 L226.8,156.5 L229.6,160.8 L233.8,163.6 L239.5,165.0 L242.3,167.8 L246.6,175.6 L250.8,179.9 L253.7,184.8 L257.9,190.5 L261.5,194.8 L262.9,201.1 L266.4,203.3 L272.5,206.0 L280.7,212.0 L285.2,215.9 L293.1,217.3 L295.0,219.9 L298.3,224.5 L303.6,226.4 L308.8,227.7 L310.1,236.9 L316.6,239.5 L321.9,241.5 L332.4,243.4 L350.7,245.4" fill="none" stroke="#a8744a" stroke-width="1.30" stroke-linejoin="round"/>
<path d="M216.8,163.6 L221.1,164.3 L225.3,167.8 L229.6,173.5 L233.8,177.0 L238.8,179.9 L242.3,182.7 L246.6,185.6 L250.8,189.1 L255.1,193.3 L259.3,199.0 L263.6,201.8 L270.0,204.5 L277.6,207.0 L280.7,208.1 L283.9,210.1 L287.9,212.0 L293.1,213.3 L294.4,216.6 L299.6,218.6 L306.2,220.5 L309.5,221.8 L311.4,225.8 L319.3,227.7 L328.4,229.7 L335.0,233.6 L338.2,236.9 L350.7,237.1" fill="none" stroke="#555d66" stroke-width="1.30" stroke-linejoin="round"/>
<path d="M217.5,150.4 L222.5,155.1 L228.2,161.5 L233.8,167.8 L236.0,173.5 L236.7,179.9 L239.5,184.8 L243.8,187.7 L248.0,191.2 L252.3,194.8 L256.5,199.7 L262.2,202.6 L267.8,204.7 L274.9,206.8 L280.7,207.4 L282.0,217.3 L285.2,223.8 L287.2,227.1 L291.8,229.7 L293.7,234.3 L295.1,238.8 L299.6,240.8 L306.2,242.8 L311.4,244.1 L319.3,244.7 L332.4,246.0 L350.7,248.0" fill="none" stroke="#3345b5" stroke-width="1.40" stroke-linejoin="round"/>
<text x="261.8" y="163.6" font-family="Liberation Serif" font-size="8.20" font-weight="normal" fill="#222" text-anchor="start"  >ITO/Te/PEDOT:PSS/ITO</text>
<text transform="translate(191.8,206.5) rotate(-90)" font-family="Liberation Serif" font-size="10" fill="#222" text-anchor="middle">S(μV/K)</text>
<text x="255.4" y="280.8" font-family="Liberation Serif" font-size="9.20" font-weight="normal" fill="#222" text-anchor="start"  >Temperature(°C)</text>
<rect x="464.0" y="160.0" width="17.0" height="43.0" fill="#fdf0f4" stroke="none" stroke-width="1.00" />
<rect x="487.5" y="207.5" width="32.0" height="24.0" fill="#fdf0f4" stroke="none" stroke-width="1.00" />
<rect x="400.0" y="198.0" width="65.0" height="8.5" fill="#fdf2f5" stroke="none" stroke-width="1.00" />
<rect x="388.9" y="152.4" width="138.9" height="108.5" fill="none" stroke="#555" stroke-width="1.10" />
<line x1="386.7" y1="163.2" x2="388.9" y2="163.2" stroke="#555" stroke-width="1.00" />
<text x="385.0" y="166.4" font-family="Liberation Serif" font-size="9.50" font-weight="normal" fill="#222" text-anchor="end"  >1.0</text>
<line x1="386.7" y1="184.5" x2="388.9" y2="184.5" stroke="#555" stroke-width="1.00" />
<text x="385.0" y="187.7" font-family="Liberation Serif" font-size="9.50" font-weight="normal" fill="#222" text-anchor="end"  >0.5</text>
<line x1="386.7" y1="205.8" x2="388.9" y2="205.8" stroke="#555" stroke-width="1.00" />
<text x="385.0" y="209.0" font-family="Liberation Serif" font-size="9.50" font-weight="normal" fill="#222" text-anchor="end"  >0.0</text>
<line x1="386.7" y1="227.1" x2="388.9" y2="227.1" stroke="#555" stroke-width="1.00" />
<text x="385.0" y="230.3" font-family="Liberation Serif" font-size="9.50" font-weight="normal" fill="#222" text-anchor="end"  >-0.5</text>
<line x1="386.7" y1="248.4" x2="388.9" y2="248.4" stroke="#555" stroke-width="1.00" />
<text x="385.0" y="251.6" font-family="Liberation Serif" font-size="9.50" font-weight="normal" fill="#222" text-anchor="end"  >-1.0</text>
<line x1="387.6" y1="173.9" x2="388.9" y2="173.9" stroke="#555" stroke-width="0.80" />
<line x1="387.6" y1="195.2" x2="388.9" y2="195.2" stroke="#555" stroke-width="0.80" />
<line x1="387.6" y1="216.5" x2="388.9" y2="216.5" stroke="#555" stroke-width="0.80" />
<line x1="387.6" y1="237.8" x2="388.9" y2="237.8" stroke="#555" stroke-width="0.80" />
<line x1="400.4" y1="260.9" x2="400.4" y2="263.1" stroke="#555" stroke-width="1.00" />
<text x="400.4" y="272.8" font-family="Liberation Serif" font-size="10.00" font-weight="normal" fill="#222" text-anchor="middle"  >0.0</text>
<line x1="423.4" y1="260.9" x2="423.4" y2="263.1" stroke="#555" stroke-width="1.00" />
<text x="423.4" y="272.8" font-family="Liberation Serif" font-size="10.00" font-weight="normal" fill="#222" text-anchor="middle"  >0.2</text>
<line x1="446.5" y1="260.9" x2="446.5" y2="263.1" stroke="#555" stroke-width="1.00" />
<text x="446.5" y="272.8" font-family="Liberation Serif" font-size="10.00" font-weight="normal" fill="#222" text-anchor="middle"  >0.4</text>
<line x1="469.5" y1="260.9" x2="469.5" y2="263.1" stroke="#555" stroke-width="1.00" />
<text x="469.5" y="272.8" font-family="Liberation Serif" font-size="10.00" font-weight="normal" fill="#222" text-anchor="middle"  >0.6</text>
<line x1="492.6" y1="260.9" x2="492.6" y2="263.1" stroke="#555" stroke-width="1.00" />
<text x="492.6" y="272.8" font-family="Liberation Serif" font-size="10.00" font-weight="normal" fill="#222" text-anchor="middle"  >0.8</text>
<line x1="515.6" y1="260.9" x2="515.6" y2="263.1" stroke="#555" stroke-width="1.00" />
<text x="515.6" y="272.8" font-family="Liberation Serif" font-size="10.00" font-weight="normal" fill="#222" text-anchor="middle"  >1.0</text>
<path d="M403.0,202.0 L403.8,202.5 L404.6,202.2 L405.5,202.5 L406.3,202.6 L407.1,201.6 L407.9,201.5 L408.7,202.9 L409.5,201.9 L410.4,201.9 L411.2,203.1 L412.0,202.2 L412.8,202.8 L413.6,202.2 L414.5,202.5 L415.3,201.7 L416.1,202.4 L416.9,202.8 L417.7,202.2 L418.5,202.6 L419.4,202.4 L420.2,201.4 L421.0,202.5 L421.8,202.3 L422.6,201.8 L423.5,201.3 L424.3,202.7 L425.1,202.0 L425.9,202.4 L426.7,202.7 L427.5,202.4 L428.4,202.7 L429.2,201.8 L430.0,202.5 L430.8,201.9 L431.7,202.6 L432.5,202.4 L433.3,201.1 L434.2,201.1 L435.0,201.2 L435.8,202.4 L436.7,201.5 L437.5,201.7 L438.3,201.1 L439.2,201.4 L440.0,201.2 L440.8,201.0 L441.7,201.4 L442.5,201.3 L443.3,201.8 L444.2,201.3 L445.0,201.7 L445.8,201.3 L446.7,201.3 L447.5,200.5 L448.3,199.5 L449.2,200.3 L450.0,200.2 L450.8,199.9 L451.6,199.2 L452.5,199.2 L453.3,198.2 L454.1,198.9 L455.1,197.6 L456.0,196.2 L456.8,196.3 L457.6,198.0 L458.5,198.7 L459.3,197.7 L460.1,198.2 L461.0,196.9 L461.9,198.1 L462.8,200.0 L463.7,202.5 L464.6,204.3 L465.5,204.1 L466.3,206.0 L467.2,206.4 L468.1,208.3 L468.9,208.9 L469.8,210.7 L470.7,211.7 L471.5,212.0 L472.4,213.4 L473.3,213.5 L474.1,214.1 L475.0,215.6 L475.9,215.8 L476.7,216.9 L477.6,218.0 L478.5,219.0 L479.4,219.1 L480.2,219.7 L481.1,221.4 L482.0,221.5 L482.9,223.0 L483.7,223.6 L484.6,223.7 L485.5,224.5 L486.4,225.3 L487.2,226.4 L488.1,226.9 L489.0,227.5 L489.8,228.3 L490.7,230.0 L491.5,229.7 L492.4,230.6 L493.2,232.6 L494.0,232.2 L495.0,231.4 L496.0,232.5 L496.9,233.7 L497.7,236.5 L498.6,237.4 L499.8,238.2 L501.0,238.3 L502.0,238.5 L503.0,242.4 L503.9,243.0 L504.7,241.7 L505.5,244.1 L506.4,244.2 L507.2,247.2 L508.0,248.5 L508.9,251.1 L509.9,252.6 L510.8,251.7 L511.7,253.3 L512.6,252.9 L513.5,251.5 L514.3,245.7 L515.0,251.9 L515.6,257.4" fill="none" stroke="#3a3a3a" stroke-width="1.00" stroke-linejoin="round"/>
<path d="M403.0,201.1 L403.8,200.7 L404.6,200.8 L405.5,200.7 L406.3,200.9 L407.1,201.2 L407.9,200.8 L408.7,200.9 L409.5,201.6 L410.4,200.4 L411.2,201.3 L412.0,201.5 L412.8,200.9 L413.6,200.8 L414.5,201.7 L415.3,200.8 L416.1,200.7 L416.9,201.2 L417.7,201.6 L418.5,200.7 L419.4,201.0 L420.2,201.1 L421.0,201.9 L421.8,201.2 L422.6,201.9 L423.5,200.8 L424.3,201.1 L425.1,201.6 L425.9,202.0 L426.7,201.4 L427.5,201.0 L428.4,200.9 L429.2,201.5 L430.0,201.0 L430.8,202.0 L431.6,202.1 L432.4,201.1 L433.2,201.3 L434.0,202.2 L434.8,202.0 L435.6,202.3 L436.4,201.6 L437.2,201.3 L438.0,201.6 L438.8,202.4 L439.6,201.6 L440.4,201.8 L441.2,201.9 L442.0,202.0 L442.8,202.0 L443.6,202.9 L444.4,201.7 L445.2,201.5 L446.0,203.0 L446.8,202.9 L447.6,203.2 L448.4,202.3 L449.2,203.2 L450.0,203.2 L450.8,202.1 L451.6,203.0 L452.4,203.2 L453.2,203.0 L454.1,202.9 L454.9,202.6 L455.7,202.7 L456.5,202.6 L457.3,202.4 L458.1,203.3 L458.9,202.9 L459.7,203.8 L460.5,202.6 L461.4,204.1 L462.2,203.8 L463.0,204.2 L463.8,204.3 L464.6,204.3 L465.6,201.0 L466.5,197.4 L467.5,187.3 L468.5,175.6 L469.5,169.3 L470.5,163.3 L471.4,165.3 L472.4,167.4 L473.3,166.6 L474.1,164.7 L475.0,162.9 L475.9,166.3 L476.7,170.5 L477.6,173.6 L478.5,178.3 L479.4,182.2 L480.3,186.3 L481.1,190.4 L482.0,194.4 L483.1,197.8 L484.2,202.8 L485.1,206.5 L486.0,209.0 L487.1,210.1 L488.1,208.6 L489.1,211.5 L490.0,213.2 L491.0,211.6 L492.2,213.5 L493.4,214.8 L494.2,214.8 L495.0,213.8 L496.1,215.3 L497.3,217.7 L498.5,220.4 L499.5,211.6 L500.5,223.8 L501.2,237.3 L502.0,220.6 L502.9,222.2 L503.8,220.5 L505.0,222.7 L506.5,217.5 L508.0,225.4 L509.1,221.4 L510.5,218.5 L512.0,224.5 L513.0,218.8 L514.3,225.5 L515.6,220.7" fill="none" stroke="#b8643c" stroke-width="1.00" stroke-linejoin="round"/>
<line x1="409.0" y1="163.6" x2="416.0" y2="163.6" stroke="#c86a48" stroke-width="1.10" />
<text x="417.4" y="166.3" font-family="Liberation Serif" font-size="6.20" font-weight="normal" fill="#333" text-anchor="start"  >Double-layer film</text>
<line x1="409.0" y1="171.0" x2="416.0" y2="171.0" stroke="#333" stroke-width="1.10" />
<text x="417.4" y="173.7" font-family="Liberation Serif" font-size="6.20" font-weight="normal" fill="#333" text-anchor="start"  >Hybrid film</text>
<text transform="translate(365.8,204) rotate(-90)" font-family="Liberation Serif" font-size="9" fill="#222" text-anchor="middle">Capacity(F)</text>
<text x="430.5" y="282.2" font-family="Liberation Serif" font-size="9.40" font-weight="normal" fill="#222" text-anchor="start"  >Potential (V)</text>
<text x="205.9" y="296.5" font-family="Liberation Serif" font-size="10.50" font-weight="bold" fill="#111" text-anchor="start"  >d</text>
<rect x="265.0" y="335.0" width="9.0" height="20.0" fill="#fdf3f6" stroke="none" stroke-width="1.00" />
<rect x="274.0" y="315.0" width="10.0" height="18.0" fill="#fdf3f6" stroke="none" stroke-width="1.00" />
<rect x="283.0" y="293.0" width="28.0" height="40.0" fill="#fdf3f6" stroke="none" stroke-width="1.00" />
<rect x="224.3" y="290.9" width="88.4" height="70.9" fill="none" stroke="#444" stroke-width="0.90" />
<line x1="222.7" y1="290.6" x2="224.3" y2="290.6" stroke="#444" stroke-width="0.70" />
<text x="222.0" y="291.9" font-family="Liberation Sans" font-size="3.60" font-weight="bold" fill="#333" text-anchor="end"  >1000</text>
<line x1="222.7" y1="304.4" x2="224.3" y2="304.4" stroke="#444" stroke-width="0.70" />
<text x="222.0" y="305.7" font-family="Liberation Sans" font-size="3.60" font-weight="bold" fill="#333" text-anchor="end"  >800</text>
<line x1="222.7" y1="317.8" x2="224.3" y2="317.8" stroke="#444" stroke-width="0.70" />
<text x="222.0" y="319.1" font-family="Liberation Sans" font-size="3.60" font-weight="bold" fill="#333" text-anchor="end"  >600</text>
<line x1="222.7" y1="330.9" x2="224.3" y2="330.9" stroke="#444" stroke-width="0.70" />
<text x="222.0" y="332.2" font-family="Liberation Sans" font-size="3.60" font-weight="bold" fill="#333" text-anchor="end"  >400</text>
<line x1="222.7" y1="344.5" x2="224.3" y2="344.5" stroke="#444" stroke-width="0.70" />
<text x="222.0" y="345.8" font-family="Liberation Sans" font-size="3.60" font-weight="bold" fill="#333" text-anchor="end"  >200</text>
<line x1="222.7" y1="358.2" x2="224.3" y2="358.2" stroke="#444" stroke-width="0.70" />
<text x="222.0" y="359.5" font-family="Liberation Sans" font-size="3.60" font-weight="bold" fill="#333" text-anchor="end"  >0</text>
<line x1="232.6" y1="361.8" x2="232.6" y2="363.4" stroke="#444" stroke-width="0.70" />
<text x="232.6" y="367.1" font-family="Liberation Sans" font-size="3.60" font-weight="bold" fill="#333" text-anchor="middle"  >0</text>
<line x1="249.0" y1="361.8" x2="249.0" y2="363.4" stroke="#444" stroke-width="0.70" />
<text x="249.0" y="367.1" font-family="Liberation Sans" font-size="3.60" font-weight="bold" fill="#333" text-anchor="middle"  >1</text>
<line x1="265.3" y1="361.8" x2="265.3" y2="363.4" stroke="#444" stroke-width="0.70" />
<text x="265.3" y="367.1" font-family="Liberation Sans" font-size="3.60" font-weight="bold" fill="#333" text-anchor="middle"  >2</text>
<line x1="281.6" y1="361.8" x2="281.6" y2="363.4" stroke="#444" stroke-width="0.70" />
<text x="281.6" y="367.1" font-family="Liberation Sans" font-size="3.60" font-weight="bold" fill="#333" text-anchor="middle"  >3</text>
<line x1="297.9" y1="361.8" x2="297.9" y2="363.4" stroke="#444" stroke-width="0.70" />
<text x="297.9" y="367.1" font-family="Liberation Sans" font-size="3.60" font-weight="bold" fill="#333" text-anchor="middle"  >4</text>
<text transform="translate(213.2,326.4) rotate(-90)" font-family="Liberation Sans" font-size="3.70" font-weight="bold" fill="#333" text-anchor="middle">σ (S/cm)</text>
<text x="248.6" y="371.3" font-family="Liberation Serif" font-size="5.40" font-weight="bold" fill="#223" text-anchor="start"  >Fluence (mJ cm<tspan font-size="3.4" dy="-2">-2</tspan><tspan dy="2">)</tspan></text>
<line x1="269.6" y1="336.3" x2="269.6" y2="353.6" stroke="#e07a8a" stroke-width="0.60" />
<line x1="268.4" y1="336.3" x2="270.8" y2="336.3" stroke="#e07a8a" stroke-width="0.60" />
<line x1="268.4" y1="353.6" x2="270.8" y2="353.6" stroke="#e07a8a" stroke-width="0.60" />
<line x1="278.8" y1="321.0" x2="278.8" y2="329.0" stroke="#e07a8a" stroke-width="0.60" />
<line x1="277.6" y1="321.0" x2="280.0" y2="321.0" stroke="#e07a8a" stroke-width="0.60" />
<line x1="277.6" y1="329.0" x2="280.0" y2="329.0" stroke="#e07a8a" stroke-width="0.60" />
<line x1="297.4" y1="293.0" x2="297.4" y2="319.0" stroke="#e07a8a" stroke-width="0.60" />
<line x1="296.2" y1="293.0" x2="298.6" y2="293.0" stroke="#e07a8a" stroke-width="0.60" />
<line x1="296.2" y1="319.0" x2="298.6" y2="319.0" stroke="#e07a8a" stroke-width="0.60" />
<line x1="288.3" y1="301.5" x2="288.3" y2="306.5" stroke="#e07a8a" stroke-width="0.60" />
<line x1="287.1" y1="301.5" x2="289.5" y2="301.5" stroke="#e07a8a" stroke-width="0.60" />
<line x1="287.1" y1="306.5" x2="289.5" y2="306.5" stroke="#e07a8a" stroke-width="0.60" />
<path d="M232.6,358.5 L251.3,358.5 L260.4,358.5 L269.6,344.5 L278.8,324.8 L288.3,303.9 L297.4,306.2 L306.9,358.5" fill="none" stroke="#e07a8a" stroke-width="0.90" />
<circle cx="232.6" cy="358.5" r="1.8" fill="#d9a8b0" stroke="#e07a8a" stroke-width="0.60" />
<circle cx="251.3" cy="358.5" r="1.8" fill="#d9a8b0" stroke="#e07a8a" stroke-width="0.60" />
<circle cx="260.4" cy="358.5" r="1.8" fill="#d9a8b0" stroke="#e07a8a" stroke-width="0.60" />
<circle cx="269.6" cy="344.5" r="1.8" fill="#d9a8b0" stroke="#e07a8a" stroke-width="0.60" />
<circle cx="278.8" cy="324.8" r="1.8" fill="#d9a8b0" stroke="#e07a8a" stroke-width="0.60" />
<circle cx="288.3" cy="303.9" r="1.8" fill="#d9a8b0" stroke="#e07a8a" stroke-width="0.60" />
<circle cx="297.4" cy="306.2" r="1.8" fill="#d9a8b0" stroke="#e07a8a" stroke-width="0.60" />
<circle cx="306.9" cy="358.5" r="1.8" fill="#d9a8b0" stroke="#e07a8a" stroke-width="0.60" />
<rect x="334.8" y="290.9" width="87.4" height="70.6" fill="none" stroke="#444" stroke-width="0.90" />
<line x1="333.2" y1="292.7" x2="334.8" y2="292.7" stroke="#444" stroke-width="0.70" />
<text x="332.5" y="294.0" font-family="Liberation Sans" font-size="3.60" font-weight="bold" fill="#333" text-anchor="end"  >30</text>
<line x1="333.2" y1="315.5" x2="334.8" y2="315.5" stroke="#444" stroke-width="0.70" />
<text x="332.5" y="316.8" font-family="Liberation Sans" font-size="3.60" font-weight="bold" fill="#333" text-anchor="end"  >20</text>
<line x1="333.2" y1="338.2" x2="334.8" y2="338.2" stroke="#444" stroke-width="0.70" />
<text x="332.5" y="339.5" font-family="Liberation Sans" font-size="3.60" font-weight="bold" fill="#333" text-anchor="end"  >10</text>
<line x1="333.2" y1="360.9" x2="334.8" y2="360.9" stroke="#444" stroke-width="0.70" />
<text x="332.5" y="362.2" font-family="Liberation Sans" font-size="3.60" font-weight="bold" fill="#333" text-anchor="end"  >0</text>
<line x1="342.7" y1="361.5" x2="342.7" y2="363.1" stroke="#444" stroke-width="0.70" />
<text x="342.7" y="366.8" font-family="Liberation Sans" font-size="3.60" font-weight="bold" fill="#333" text-anchor="middle"  >0</text>
<line x1="359.1" y1="361.5" x2="359.1" y2="363.1" stroke="#444" stroke-width="0.70" />
<text x="359.1" y="366.8" font-family="Liberation Sans" font-size="3.60" font-weight="bold" fill="#333" text-anchor="middle"  >1</text>
<line x1="374.9" y1="361.5" x2="374.9" y2="363.1" stroke="#444" stroke-width="0.70" />
<text x="374.9" y="366.8" font-family="Liberation Sans" font-size="3.60" font-weight="bold" fill="#333" text-anchor="middle"  >2</text>
<line x1="390.9" y1="361.5" x2="390.9" y2="363.1" stroke="#444" stroke-width="0.70" />
<text x="390.9" y="366.8" font-family="Liberation Sans" font-size="3.60" font-weight="bold" fill="#333" text-anchor="middle"  >3</text>
<line x1="407.3" y1="361.5" x2="407.3" y2="363.1" stroke="#444" stroke-width="0.70" />
<text x="407.3" y="366.8" font-family="Liberation Sans" font-size="3.60" font-weight="bold" fill="#333" text-anchor="middle"  >4</text>
<text transform="translate(325.0,331.0) rotate(-90)" font-family="Liberation Sans" font-size="3.60" font-weight="bold" fill="#333" text-anchor="middle">Seebeck coefficient (μV/K)</text>
<text x="358.2" y="371.3" font-family="Liberation Serif" font-size="5.40" font-weight="bold" fill="#223" text-anchor="start"  >Fluence (mJ cm<tspan font-size="3.4" dy="-2">-2</tspan><tspan dy="2">)</tspan></text>
<line x1="342.7" y1="314.0" x2="342.7" y2="325.0" stroke="#d8d020" stroke-width="0.60" />
<line x1="341.5" y1="314.0" x2="343.9" y2="314.0" stroke="#d8d020" stroke-width="0.60" />
<line x1="341.5" y1="325.0" x2="343.9" y2="325.0" stroke="#d8d020" stroke-width="0.60" />
<line x1="379.6" y1="322.0" x2="379.6" y2="332.0" stroke="#d8d020" stroke-width="0.60" />
<line x1="378.4" y1="322.0" x2="380.8" y2="322.0" stroke="#d8d020" stroke-width="0.60" />
<line x1="378.4" y1="332.0" x2="380.8" y2="332.0" stroke="#d8d020" stroke-width="0.60" />
<line x1="398.2" y1="321.0" x2="398.2" y2="330.0" stroke="#d8d020" stroke-width="0.60" />
<line x1="397.0" y1="321.0" x2="399.4" y2="321.0" stroke="#d8d020" stroke-width="0.60" />
<line x1="397.0" y1="330.0" x2="399.4" y2="330.0" stroke="#d8d020" stroke-width="0.60" />
<line x1="416.9" y1="336.0" x2="416.9" y2="341.5" stroke="#d8d020" stroke-width="0.60" />
<line x1="415.7" y1="336.0" x2="418.1" y2="336.0" stroke="#d8d020" stroke-width="0.60" />
<line x1="415.7" y1="341.5" x2="418.1" y2="341.5" stroke="#d8d020" stroke-width="0.60" />
<path d="M342.7,319.3 L361.5,323.3 L370.5,326.4 L379.6,327.0 L389.1,322.7 L398.2,325.5 L407.8,336.4 L416.9,338.7" fill="none" stroke="#d8d020" stroke-width="0.90" />
<circle cx="342.7" cy="319.3" r="1.8" fill="#e6e24a" stroke="#d8d020" stroke-width="0.60" />
<circle cx="361.5" cy="323.3" r="1.8" fill="#e6e24a" stroke="#d8d020" stroke-width="0.60" />
<circle cx="370.5" cy="326.4" r="1.8" fill="#e6e24a" stroke="#d8d020" stroke-width="0.60" />
<circle cx="379.6" cy="327.0" r="1.8" fill="#e6e24a" stroke="#d8d020" stroke-width="0.60" />
<circle cx="389.1" cy="322.7" r="1.8" fill="#e6e24a" stroke="#d8d020" stroke-width="0.60" />
<circle cx="398.2" cy="325.5" r="1.8" fill="#e6e24a" stroke="#d8d020" stroke-width="0.60" />
<circle cx="407.8" cy="336.4" r="1.8" fill="#e6e24a" stroke="#d8d020" stroke-width="0.60" />
<circle cx="416.9" cy="338.7" r="1.8" fill="#e6e24a" stroke="#d8d020" stroke-width="0.60" />
<rect x="444.4" y="291.2" width="86.9" height="69.7" fill="none" stroke="#444" stroke-width="0.90" />
<line x1="442.8" y1="292.7" x2="444.4" y2="292.7" stroke="#444" stroke-width="0.70" />
<text x="442.1" y="294.0" font-family="Liberation Sans" font-size="3.60" font-weight="bold" fill="#333" text-anchor="end"  >30</text>
<line x1="442.8" y1="313.1" x2="444.4" y2="313.1" stroke="#444" stroke-width="0.70" />
<text x="442.1" y="314.4" font-family="Liberation Sans" font-size="3.60" font-weight="bold" fill="#333" text-anchor="end"  >20</text>
<line x1="442.8" y1="334.0" x2="444.4" y2="334.0" stroke="#444" stroke-width="0.70" />
<text x="442.1" y="335.3" font-family="Liberation Sans" font-size="3.60" font-weight="bold" fill="#333" text-anchor="end"  >10</text>
<line x1="442.8" y1="355.0" x2="444.4" y2="355.0" stroke="#444" stroke-width="0.70" />
<text x="442.1" y="356.3" font-family="Liberation Sans" font-size="3.60" font-weight="bold" fill="#333" text-anchor="end"  >0</text>
<line x1="452.0" y1="360.9" x2="452.0" y2="362.5" stroke="#444" stroke-width="0.70" />
<text x="452.0" y="366.2" font-family="Liberation Sans" font-size="3.60" font-weight="bold" fill="#333" text-anchor="middle"  >0</text>
<line x1="467.3" y1="360.9" x2="467.3" y2="362.5" stroke="#444" stroke-width="0.70" />
<text x="467.3" y="366.2" font-family="Liberation Sans" font-size="3.60" font-weight="bold" fill="#333" text-anchor="middle"  >1</text>
<line x1="483.8" y1="360.9" x2="483.8" y2="362.5" stroke="#444" stroke-width="0.70" />
<text x="483.8" y="366.2" font-family="Liberation Sans" font-size="3.60" font-weight="bold" fill="#333" text-anchor="middle"  >2</text>
<line x1="500.3" y1="360.9" x2="500.3" y2="362.5" stroke="#444" stroke-width="0.70" />
<text x="500.3" y="366.2" font-family="Liberation Sans" font-size="3.60" font-weight="bold" fill="#333" text-anchor="middle"  >3</text>
<line x1="516.9" y1="360.9" x2="516.9" y2="362.5" stroke="#444" stroke-width="0.70" />
<text x="516.9" y="366.2" font-family="Liberation Sans" font-size="3.60" font-weight="bold" fill="#333" text-anchor="middle"  >4</text>
<text transform="translate(433.6,326.7) rotate(-90)" font-family="Liberation Sans" font-size="4.60" font-weight="bold" fill="#333" text-anchor="middle">Power factor (μW/mK²)</text>
<text x="468.5" y="371.3" font-family="Liberation Serif" font-size="5.40" font-weight="bold" fill="#223" text-anchor="start"  >Fluence (mJ cm<tspan font-size="3.4" dy="-2">-2</tspan><tspan dy="2">)</tspan></text>
<line x1="489.4" y1="341.0" x2="489.4" y2="353.0" stroke="#4a7fd0" stroke-width="0.60" />
<line x1="488.2" y1="341.0" x2="490.6" y2="341.0" stroke="#4a7fd0" stroke-width="0.60" />
<line x1="488.2" y1="353.0" x2="490.6" y2="353.0" stroke="#4a7fd0" stroke-width="0.60" />
<line x1="497.8" y1="318.0" x2="497.8" y2="331.0" stroke="#4a7fd0" stroke-width="0.60" />
<line x1="496.6" y1="318.0" x2="499.0" y2="318.0" stroke="#4a7fd0" stroke-width="0.60" />
<line x1="496.6" y1="331.0" x2="499.0" y2="331.0" stroke="#4a7fd0" stroke-width="0.60" />
<line x1="507.5" y1="307.0" x2="507.5" y2="324.0" stroke="#4a7fd0" stroke-width="0.60" />
<line x1="506.3" y1="307.0" x2="508.7" y2="307.0" stroke="#4a7fd0" stroke-width="0.60" />
<line x1="506.3" y1="324.0" x2="508.7" y2="324.0" stroke="#4a7fd0" stroke-width="0.60" />
<line x1="516.9" y1="333.0" x2="516.9" y2="341.5" stroke="#4a7fd0" stroke-width="0.60" />
<line x1="515.7" y1="333.0" x2="518.1" y2="333.0" stroke="#4a7fd0" stroke-width="0.60" />
<line x1="515.7" y1="341.5" x2="518.1" y2="341.5" stroke="#4a7fd0" stroke-width="0.60" />
<path d="M452.0,355.0 L470.6,355.0 L479.5,354.0 L489.4,347.4 L497.8,324.5 L507.5,315.6 L516.9,337.3 L526.3,355.0" fill="none" stroke="#4a7fd0" stroke-width="0.90" />
<circle cx="452.0" cy="355.0" r="1.8" fill="#5b8fe0" stroke="#4a7fd0" stroke-width="0.60" />
<circle cx="470.6" cy="355.0" r="1.8" fill="#5b8fe0" stroke="#4a7fd0" stroke-width="0.60" />
<circle cx="479.5" cy="354.0" r="1.8" fill="#5b8fe0" stroke="#4a7fd0" stroke-width="0.60" />
<circle cx="489.4" cy="347.4" r="1.8" fill="#5b8fe0" stroke="#4a7fd0" stroke-width="0.60" />
<circle cx="497.8" cy="324.5" r="1.8" fill="#5b8fe0" stroke="#4a7fd0" stroke-width="0.60" />
<circle cx="507.5" cy="315.6" r="1.8" fill="#5b8fe0" stroke="#4a7fd0" stroke-width="0.60" />
<circle cx="516.9" cy="337.3" r="1.8" fill="#5b8fe0" stroke="#4a7fd0" stroke-width="0.60" />
<circle cx="526.3" cy="355.0" r="1.8" fill="#5b8fe0" stroke="#4a7fd0" stroke-width="0.60" />
<defs>
<linearGradient id="arrowg" x1="0" y1="0" x2="1" y2="0">
 <stop offset="0" stop-color="#c4cee6"/><stop offset="0.35" stop-color="#d2dbee"/><stop offset="0.55" stop-color="#eef0f4"/>
 <stop offset="0.7" stop-color="#f8f0d8"/><stop offset="0.85" stop-color="#f8dcd0"/><stop offset="1" stop-color="#f4b8bc"/>
</linearGradient>
<linearGradient id="beamg" x1="0" y1="0" x2="1" y2="0">
 <stop offset="0" stop-color="#f4b0a8"/><stop offset="0.25" stop-color="#e8806c"/><stop offset="0.45" stop-color="#fff0ea"/><stop offset="0.55" stop-color="#fff0ea"/><stop offset="0.75" stop-color="#e8806c"/><stop offset="1" stop-color="#f4b0a8"/>
</linearGradient>
<filter id="blur1" x="-20%" y="-20%" width="140%" height="140%"><feGaussianBlur stdDeviation="1.3"/></filter>
<filter id="blur05" x="-10%" y="-10%" width="120%" height="120%"><feGaussianBlur stdDeviation="0.5"/></filter>
<filter id="blur08" x="-10%" y="-10%" width="120%" height="120%"><feGaussianBlur stdDeviation="0.8"/></filter>
</defs>
<text x="13.0" y="305.0" font-family="Liberation Serif" font-size="11.50" font-weight="bold" fill="#111" text-anchor="start"  >c</text>
<ellipse cx="38.9" cy="409.5" rx="28" ry="21" fill="#ffffff" stroke="#dcdef4" stroke-width="6.5" filter="url(#blur1)"/>
<ellipse cx="101.3" cy="433.6" rx="28.8" ry="26" fill="#f3f6fa" stroke="#d9e0ec" stroke-width="7" filter="url(#blur1)"/>
<ellipse cx="168.3" cy="413.5" rx="29.3" ry="20" fill="#ffffff" stroke="#f8e4da" stroke-width="6.5" filter="url(#blur1)"/>
<path d="M17.2,410.3 L17.9,410.5 L18.6,410.7 L19.3,410.8 L20.0,410.9 L20.7,411.1 L21.4,411.1 L22.1,411.2 L22.8,411.2 L23.5,411.2 L24.2,411.1 L24.9,411.0 L25.6,410.9 L26.3,410.8 L27.0,410.6 L27.7,410.4 L28.4,410.2 L29.1,410.1 L29.8,409.9 L30.5,409.8 L31.2,409.6 L31.9,409.5 L32.6,409.4 L33.3,409.4 L34.0,409.4 L34.7,409.4 L35.4,409.5 L36.1,409.6 L36.8,409.7 L37.5,409.9 L38.2,410.0 L38.9,410.2 L39.6,410.4 L40.3,410.6 L41.0,410.7 L41.7,410.9 L42.4,411.0 L43.1,411.1 L43.8,411.2 L44.5,411.2 L45.2,411.2 L45.9,411.1 L46.6,411.1 L47.3,411.0 L48.0,410.8 L48.7,410.7 L49.4,410.5 L50.1,410.3 L50.8,410.1 L51.5,410.0 L52.2,409.8 L52.9,409.7 L53.6,409.6 L54.3,409.5 L55.0,409.4 L55.7,409.4 L56.4,409.4 L57.1,409.5 L57.8,409.6 L58.5,409.7 L59.2,409.8 L59.9,410.0 L60.6,410.1 L61.3,410.3 L62.0,410.5 L62.7,410.7" fill="none" stroke="#3a62b0" stroke-width="1.70" stroke-linecap="round"/>
<path d="M17.5,402.5 Q23.1,399.5 28.6,401.5" fill="none" stroke="#4a5a78" stroke-width="0.70" />
<path d="M18.5,418 Q23.1,420.5 28.6,418.5" fill="none" stroke="#4a5a78" stroke-width="0.70" />
<line x1="19.5" y1="404.5" x2="19.5" y2="407.0" stroke="#6a98a8" stroke-width="0.50" />
<line x1="20.0" y1="412.8" x2="20.0" y2="415.2" stroke="#6a98a8" stroke-width="0.50" />
<line x1="22.7" y1="404.5" x2="22.7" y2="407.0" stroke="#6a98a8" stroke-width="0.50" />
<line x1="23.2" y1="412.8" x2="23.2" y2="415.2" stroke="#6a98a8" stroke-width="0.50" />
<line x1="25.9" y1="404.5" x2="25.9" y2="407.0" stroke="#6a98a8" stroke-width="0.50" />
<line x1="26.4" y1="412.8" x2="26.4" y2="415.2" stroke="#6a98a8" stroke-width="0.50" />
<path d="M32.7,402.5 Q38.5,399.5 44.2,401.5" fill="none" stroke="#4a5a78" stroke-width="0.70" />
<path d="M33.7,418 Q38.5,420.5 44.2,418.5" fill="none" stroke="#4a5a78" stroke-width="0.70" />
<line x1="34.7" y1="404.5" x2="34.7" y2="407.0" stroke="#6a98a8" stroke-width="0.50" />
<line x1="35.2" y1="412.8" x2="35.2" y2="415.2" stroke="#6a98a8" stroke-width="0.50" />
<line x1="37.9" y1="404.5" x2="37.9" y2="407.0" stroke="#6a98a8" stroke-width="0.50" />
<line x1="38.4" y1="412.8" x2="38.4" y2="415.2" stroke="#6a98a8" stroke-width="0.50" />
<line x1="41.1" y1="404.5" x2="41.1" y2="407.0" stroke="#6a98a8" stroke-width="0.50" />
<line x1="41.6" y1="412.8" x2="41.6" y2="415.2" stroke="#6a98a8" stroke-width="0.50" />
<path d="M49.0,402.5 Q56.0,399.5 63.0,401.5" fill="none" stroke="#4a5a78" stroke-width="0.70" />
<path d="M50.0,418 Q56.0,420.5 63.0,418.5" fill="none" stroke="#4a5a78" stroke-width="0.70" />
<line x1="51.0" y1="404.5" x2="51.0" y2="407.0" stroke="#6a98a8" stroke-width="0.50" />
<line x1="51.5" y1="412.8" x2="51.5" y2="415.2" stroke="#6a98a8" stroke-width="0.50" />
<line x1="54.2" y1="404.5" x2="54.2" y2="407.0" stroke="#6a98a8" stroke-width="0.50" />
<line x1="54.7" y1="412.8" x2="54.7" y2="415.2" stroke="#6a98a8" stroke-width="0.50" />
<line x1="57.4" y1="404.5" x2="57.4" y2="407.0" stroke="#6a98a8" stroke-width="0.50" />
<line x1="57.9" y1="412.8" x2="57.9" y2="415.2" stroke="#6a98a8" stroke-width="0.50" />
<text x="38.5" y="443.8" font-family="Liberation Sans" font-size="5.00" font-weight="normal" fill="#333" text-anchor="middle"  >fs laser excitation</text>
<rect x="78.6" y="419.5" width="41.5" height="30.5" fill="#dfe8f4" stroke="none" stroke-width="1.00" opacity="0.7"/>
<path d="M80.0,427.3 L86.0,424.3 L120.0,424.3 L114.0,427.3 Z" fill="#8fb0da" stroke="none" stroke-width="1.00" />
<rect x="80.0" y="427.3" width="34.0" height="4.3" fill="#4f7fbf" stroke="none" stroke-width="1.00" />
<path d="M114.0,427.3 L120.0,424.3 L120.0,428.6 L114.0,431.6 Z" fill="#6e98cc" stroke="none" stroke-width="1.00" />
<path d="M80.0,435.4 L86.0,432.4 L120.0,432.4 L114.0,435.4 Z" fill="#8fb0da" stroke="none" stroke-width="1.00" />
<rect x="80.0" y="435.4" width="34.0" height="4.3" fill="#4f7fbf" stroke="none" stroke-width="1.00" />
<path d="M114.0,435.4 L120.0,432.4 L120.0,436.7 L114.0,439.7 Z" fill="#6e98cc" stroke="none" stroke-width="1.00" />
<path d="M80.0,443.5 L86.0,440.5 L120.0,440.5 L114.0,443.5 Z" fill="#8fb0da" stroke="none" stroke-width="1.00" />
<rect x="80.0" y="443.5" width="34.0" height="4.3" fill="#4f7fbf" stroke="none" stroke-width="1.00" />
<path d="M114.0,443.5 L120.0,440.5 L120.0,444.8 L114.0,447.8 Z" fill="#6e98cc" stroke="none" stroke-width="1.00" />
<line x1="124.8" y1="419.5" x2="124.8" y2="430.0" stroke="#333" stroke-width="0.60" />
<line x1="124.8" y1="435.0" x2="124.8" y2="447.0" stroke="#333" stroke-width="0.60" />
<path d="M123.7,428 L124.8,430.5 L125.9,428 Z M123.7,437 L124.8,434.5 L125.9,437 Z" fill="#333" stroke="none" stroke-width="1.00" />
<text x="103.0" y="473.0" font-family="Liberation Sans" font-size="5.00" font-weight="normal" fill="#333" text-anchor="middle"  >decreased π-π stacking distance</text>
<rect x="142.0" y="409.0" width="52.0" height="9.0" fill="#e2f4f6" stroke="none" stroke-width="1.00" opacity="0.8"/>
<path d="M141.0,413.2 L141.7,413.3 L142.4,413.4 L143.1,413.6 L143.8,413.7 L144.5,413.9 L145.2,414.0 L145.9,414.2 L146.6,414.3 L147.3,414.5 L148.0,414.6 L148.7,414.8 L149.4,414.9 L150.1,415.0 L150.8,415.1 L151.5,415.3 L152.2,415.3 L152.9,415.4 L153.6,415.5 L154.3,415.5 L155.0,415.6 L155.7,415.6 L156.4,415.6 L157.1,415.6 L157.8,415.5 L158.5,415.5 L159.2,415.4 L159.9,415.4 L160.6,415.3 L161.3,415.2 L162.0,415.0 L162.7,414.9 L163.4,414.8 L164.1,414.6 L164.8,414.5 L165.5,414.3 L166.2,414.2 L166.9,414.0 L167.6,413.9 L168.3,413.7 L169.0,413.6 L169.7,413.4 L170.4,413.3 L171.1,413.2 L171.8,413.1 L172.5,413.0 L173.2,412.9 L173.9,412.9 L174.6,412.8 L175.3,412.8 L176.0,412.8 L176.7,412.8 L177.4,412.8 L178.1,412.9 L178.8,412.9 L179.5,413.0 L180.2,413.1 L180.9,413.2 L181.6,413.3 L182.3,413.4 L183.0,413.5 L183.7,413.7 L184.4,413.8 L185.1,414.0 L185.8,414.1 L186.5,414.3 L187.2,414.4 L187.9,414.6 L188.6,414.7 L189.3,414.9 L190.0,415.0 L190.7,415.1 L191.4,415.2 L192.1,415.3 L192.8,415.4 L193.5,415.5" fill="none" stroke="#2f56a8" stroke-width="1.60" stroke-linecap="round"/>
<path d="M147.3,407 q2,-1.2 4,-0.3" fill="none" stroke="#3a4a6a" stroke-width="0.70" />
<path d="M147.3,421.4 q2,1.2 4,0.3" fill="none" stroke="#3a4a6a" stroke-width="0.70" />
<path d="M167.0,407 q2,-1.2 4,-0.3" fill="none" stroke="#3a4a6a" stroke-width="0.70" />
<path d="M167.0,421.4 q2,1.2 4,0.3" fill="none" stroke="#3a4a6a" stroke-width="0.70" />
<path d="M186.8,407 q2,-1.2 4,-0.3" fill="none" stroke="#3a4a6a" stroke-width="0.70" />
<path d="M186.8,421.4 q2,1.2 4,0.3" fill="none" stroke="#3a4a6a" stroke-width="0.70" />
<text x="168.6" y="449.8" font-family="Liberation Sans" font-size="5.10" font-weight="normal" fill="#333" text-anchor="middle"  >PSS  removal</text>
<path d="M14,359 C48,372 75,385.5 102,385.5 C130,385.5 158,375 178.5,363.5 L177.5,357.7 L195,359.5 L184,376 L182.5,370.5 C160,383 130,392 102,392 C74,392 45,381 14.5,368 Z" fill="url(#arrowg)" filter="url(#blur05)"/>
<text x="23.6" y="368.4" font-family="Liberation Sans" font-size="4.80" font-weight="bold" fill="#333" text-anchor="start"  >fs</text>
<text x="164.5" y="376.0" font-family="Liberation Sans" font-size="4.80" font-weight="bold" fill="#333" text-anchor="start"  >ns</text>
<text x="107.5" y="395.6" font-family="Liberation Sans" font-size="5.00" font-weight="bold" fill="#333" text-anchor="middle"  >time scale</text>
<path d="M64.1,344.5 L115,356.4 L115,366.4 L64.1,354.5 Z" fill="#65758c" stroke="none" stroke-width="1.00" />
<path d="M115,356.4 L144.5,330.4 L144.5,340.4 L115,366.4 Z" fill="#56667e" stroke="none" stroke-width="1.00" />
<path d="M90.5,317.6 L144.5,330.4 L115,356.4 L64.1,344.5 Z" fill="#8696ab" stroke="none" stroke-width="1.00" />
<text transform="translate(67,351.8) rotate(13)" font-family="Liberation Sans" font-size="4.2" font-weight="bold" fill="#2a3345">PEDOT:PSS</text>
<line x1="16.4" y1="358.2" x2="104.0" y2="337.0" stroke="#555a66" stroke-width="0.75" stroke-dasharray="2.4,1.6"/>
<line x1="104.0" y1="337.0" x2="194.0" y2="357.6" stroke="#555a66" stroke-width="0.75" stroke-dasharray="2.4,1.6"/>
<line x1="129.0" y1="332.5" x2="148.0" y2="290.5" stroke="#555a66" stroke-width="0.75" stroke-dasharray="2.4,1.6"/>
<line x1="131.0" y1="334.0" x2="147.5" y2="335.5" stroke="#555a66" stroke-width="0.75" stroke-dasharray="2.4,1.6"/>
<rect x="96.4" y="288.6" width="15.8" height="55.5" fill="#f0a4d2" stroke="none" stroke-width="1.00" opacity="0.5"/>
<path d="M97.6,299.5 L111,299.5 L104.4,335 Z" fill="url(#beamg)" stroke="none" stroke-width="1.00" />
<ellipse cx="104.2" cy="336.6" rx="8.5" ry="4" fill="#e6e818" stroke="#c8d030" stroke-width="0.6"/><ellipse cx="104.2" cy="336.4" rx="3" ry="1.3" fill="#a8b020" opacity="0.6"/>
<text x="104.3" y="296.0" font-family="Liberation Sans" font-size="3.60" font-weight="normal" fill="#c03030" text-anchor="middle"  >fs pulse</text>
<rect x="147.5" y="288.5" width="53.0" height="48.5" fill="#ffffff" stroke="#7d8aa6" stroke-width="0.90" rx="5"/>
<path d="M149,292 C155,289 160,293 166,291 C172,289 178,293 184,291 C190,289 195,292 200,291" fill="none" stroke="#7a9a7a" stroke-width="0.80" />
<path d="M149,306 C155,309 160,305 166,308 C172,310 178,306 184,308 C190,310 195,306 200,307" fill="none" stroke="#7a9a7a" stroke-width="0.80" />
<line x1="152.0" y1="293.5" x2="152.0" y2="296.5" stroke="#8ab88a" stroke-width="0.50" />
<line x1="153.0" y1="302.5" x2="153.0" y2="305.5" stroke="#8ab88a" stroke-width="0.50" />
<line x1="155.0" y1="293.5" x2="155.0" y2="296.5" stroke="#8ab88a" stroke-width="0.50" />
<line x1="156.0" y1="302.5" x2="156.0" y2="305.5" stroke="#8ab88a" stroke-width="0.50" />
<line x1="158.0" y1="293.5" x2="158.0" y2="296.5" stroke="#8ab88a" stroke-width="0.50" />
<line x1="159.0" y1="302.5" x2="159.0" y2="305.5" stroke="#8ab88a" stroke-width="0.50" />
<line x1="161.0" y1="293.5" x2="161.0" y2="296.5" stroke="#8ab88a" stroke-width="0.50" />
<line x1="162.0" y1="302.5" x2="162.0" y2="305.5" stroke="#8ab88a" stroke-width="0.50" />
<line x1="164.0" y1="293.5" x2="164.0" y2="296.5" stroke="#8ab88a" stroke-width="0.50" />
<line x1="165.0" y1="302.5" x2="165.0" y2="305.5" stroke="#8ab88a" stroke-width="0.50" />
<line x1="167.0" y1="293.5" x2="167.0" y2="296.5" stroke="#8ab88a" stroke-width="0.50" />
<line x1="168.0" y1="302.5" x2="168.0" y2="305.5" stroke="#8ab88a" stroke-width="0.50" />
<line x1="170.0" y1="293.5" x2="170.0" y2="296.5" stroke="#8ab88a" stroke-width="0.50" />
<line x1="171.0" y1="302.5" x2="171.0" y2="305.5" stroke="#8ab88a" stroke-width="0.50" />
<line x1="173.0" y1="293.5" x2="173.0" y2="296.5" stroke="#8ab88a" stroke-width="0.50" />
<line x1="174.0" y1="302.5" x2="174.0" y2="305.5" stroke="#8ab88a" stroke-width="0.50" />
<line x1="176.0" y1="293.5" x2="176.0" y2="296.5" stroke="#8ab88a" stroke-width="0.50" />
<line x1="177.0" y1="302.5" x2="177.0" y2="305.5" stroke="#8ab88a" stroke-width="0.50" />
<line x1="179.0" y1="293.5" x2="179.0" y2="296.5" stroke="#8ab88a" stroke-width="0.50" />
<line x1="180.0" y1="302.5" x2="180.0" y2="305.5" stroke="#8ab88a" stroke-width="0.50" />
<line x1="182.0" y1="293.5" x2="182.0" y2="296.5" stroke="#8ab88a" stroke-width="0.50" />
<line x1="183.0" y1="302.5" x2="183.0" y2="305.5" stroke="#8ab88a" stroke-width="0.50" />
<line x1="185.0" y1="293.5" x2="185.0" y2="296.5" stroke="#8ab88a" stroke-width="0.50" />
<line x1="186.0" y1="302.5" x2="186.0" y2="305.5" stroke="#8ab88a" stroke-width="0.50" />
<line x1="188.0" y1="293.5" x2="188.0" y2="296.5" stroke="#8ab88a" stroke-width="0.50" />
<line x1="189.0" y1="302.5" x2="189.0" y2="305.5" stroke="#8ab88a" stroke-width="0.50" />
<line x1="191.0" y1="293.5" x2="191.0" y2="296.5" stroke="#8ab88a" stroke-width="0.50" />
<line x1="192.0" y1="302.5" x2="192.0" y2="305.5" stroke="#8ab88a" stroke-width="0.50" />
<line x1="194.0" y1="293.5" x2="194.0" y2="296.5" stroke="#8ab88a" stroke-width="0.50" />
<line x1="195.0" y1="302.5" x2="195.0" y2="305.5" stroke="#8ab88a" stroke-width="0.50" />
<line x1="197.0" y1="293.5" x2="197.0" y2="296.5" stroke="#8ab88a" stroke-width="0.50" />
<line x1="198.0" y1="302.5" x2="198.0" y2="305.5" stroke="#8ab88a" stroke-width="0.50" />
<path d="M152.4,306.0 L153.1,305.6 L153.8,305.0 L154.5,304.0 L155.2,302.9 L155.9,301.6 L156.6,300.3 L157.3,299.0 L158.0,297.9 L158.7,297.1 L159.4,296.6 L160.1,296.4 L160.8,296.6 L161.5,297.1 L162.2,297.9 L162.9,299.0 L163.6,300.3 L164.3,301.6 L165.0,302.9 L165.7,304.0 L166.4,305.0 L167.1,305.6 L167.8,306.0 L168.5,305.9 L169.2,305.6 L169.9,304.8 L170.6,303.9 L171.3,302.7 L172.0,301.4 L172.7,300.1 L173.4,298.9 L174.1,297.8 L174.8,297.0 L175.5,296.5 L176.2,296.4 L176.9,296.6 L177.6,297.2 L178.3,298.1 L179.0,299.2 L179.7,300.4 L180.4,301.8 L181.1,303.0 L181.8,304.2 L182.5,305.1 L183.2,305.7 L183.9,306.0 L184.6,305.9 L185.3,305.5 L186.0,304.7 L186.7,303.7 L187.4,302.5 L188.1,301.2 L188.8,299.9 L189.5,298.7 L190.2,297.7 L190.9,296.9 L191.6,296.5 L192.3,296.4 L193.0,296.7 L193.7,297.3 L194.4,298.2" fill="none" stroke="#2a3a8c" stroke-width="1.90" stroke-linecap="round"/>
<path d="M154.0,319.2 L154.7,319.9 L155.4,320.3 L156.1,320.3 L156.8,319.9 L157.5,319.2 L158.2,318.5 L158.9,318.1 L159.6,318.1 L160.3,318.5 L161.0,319.2 L161.7,319.9 L162.4,320.3 L163.1,320.3 L163.8,319.9 L164.5,319.2 L165.2,318.5 L165.9,318.1 L166.6,318.1 L167.3,318.5 L168.0,319.2" fill="none" stroke="#2a3a8c" stroke-width="0.90" stroke-linecap="round"/>
<text x="173.4" y="320.7" font-family="Liberation Sans" font-size="3.40" font-weight="normal" fill="#333" text-anchor="start"  >PEDOT</text>
<line x1="155.5" y1="325.4" x2="165.0" y2="325.4" stroke="#6a7a6a" stroke-width="0.70" />
<text x="174.3" y="326.9" font-family="Liberation Sans" font-size="3.40" font-weight="normal" fill="#333" text-anchor="start"  >PSS</text>
<line x1="155.5" y1="331.4" x2="164.0" y2="331.4" stroke="#444" stroke-width="0.70" stroke-dasharray="1,1.2"/>
<text x="167.8" y="332.9" font-family="Liberation Sans" font-size="3.40" font-weight="normal" fill="#333" text-anchor="start"  >Coulombic interaction</text>
<text x="207.6" y="385.2" font-family="Liberation Serif" font-size="11.50" font-weight="bold" fill="#111" text-anchor="start"  >e</text>
<text x="216.0" y="389.5" font-family="Liberation Sans" font-size="4.30" font-weight="normal" fill="#444" text-anchor="middle"  >DAE</text>
<text x="216.0" y="394.4" font-family="Liberation Sans" font-size="4.30" font-weight="normal" fill="#444" text-anchor="middle"  >open</text>
<text x="216.0" y="399.3" font-family="Liberation Sans" font-size="4.30" font-weight="normal" fill="#444" text-anchor="middle"  >form</text>
<text x="217.5" y="421.5" font-family="Liberation Sans" font-size="4.30" font-weight="normal" fill="#444" text-anchor="middle"  >UV</text>
<text x="217.5" y="426.4" font-family="Liberation Sans" font-size="4.30" font-weight="normal" fill="#444" text-anchor="middle"  >light</text>
<text x="213.5" y="457.5" font-family="Liberation Sans" font-size="4.30" font-weight="normal" fill="#444" text-anchor="middle"  >Closed</text>
<text x="213.5" y="462.4" font-family="Liberation Sans" font-size="4.30" font-weight="normal" fill="#444" text-anchor="middle"  >form</text>
<path d="M245,396.1 L243.4,387.5 L248.7,383.7 L254,387.5 L252.4,396.1 Z" fill="none" stroke="#555" stroke-width="0.85" />
<line x1="245.5" y1="394.9" x2="251.9" y2="394.9" stroke="#555" stroke-width="0.60" />
<line x1="245.0" y1="396.1" x2="241.1" y2="402.9" stroke="#555" stroke-width="0.85" />
<line x1="252.4" y1="396.1" x2="255.8" y2="402.9" stroke="#555" stroke-width="0.85" />
<path d="M241.1,402.9 L233.8,402.9 L231.5,410.2 L237.2,415.3 L242.2,410.7 Z" fill="none" stroke="#555" stroke-width="0.85" />
<path d="M255.8,402.9 L263.1,402.9 L265.9,410.2 L260.3,415.3 L255.2,410.7 Z" fill="none" stroke="#555" stroke-width="0.85" />
<line x1="234.6" y1="404.2" x2="232.8" y2="409.8" stroke="#555" stroke-width="0.50" />
<line x1="262.3" y1="404.2" x2="264.6" y2="409.8" stroke="#555" stroke-width="0.50" />
<line x1="231.5" y1="410.2" x2="225.5" y2="412.2" stroke="#555" stroke-width="0.85" />
<line x1="265.9" y1="410.2" x2="272.3" y2="412.2" stroke="#555" stroke-width="0.85" />
<line x1="242.2" y1="410.7" x2="247.9" y2="414.7" stroke="#555" stroke-width="0.85" />
<line x1="255.2" y1="410.7" x2="250.1" y2="405.1" stroke="#555" stroke-width="0.85" />
<text x="222.6" y="413.8" font-family="Liberation Sans" font-size="3.60" font-weight="normal" fill="#555" text-anchor="middle"  >Cl</text>
<text x="275.2" y="413.8" font-family="Liberation Sans" font-size="3.60" font-weight="normal" fill="#555" text-anchor="middle"  >Cl</text>
<text x="237.2" y="418.6" font-family="Liberation Sans" font-size="3.00" font-weight="normal" fill="#555" text-anchor="middle"  >S</text>
<text x="260.3" y="418.6" font-family="Liberation Sans" font-size="3.00" font-weight="normal" fill="#555" text-anchor="middle"  >S</text>
<line x1="222.5" y1="425.2" x2="245.3" y2="422.0" stroke="#6a6ab8" stroke-width="0.60" opacity="0.8"/>
<line x1="222.5" y1="425.2" x2="245.5" y2="424.6" stroke="#6a6ab8" stroke-width="0.60" opacity="0.8"/>
<line x1="222.5" y1="425.2" x2="245.4" y2="427.2" stroke="#6a6ab8" stroke-width="0.60" opacity="0.8"/>
<line x1="222.5" y1="425.2" x2="245.0" y2="429.8" stroke="#6a6ab8" stroke-width="0.60" opacity="0.8"/>
<line x1="222.5" y1="425.2" x2="244.4" y2="432.3" stroke="#6a6ab8" stroke-width="0.60" opacity="0.8"/>
<line x1="222.5" y1="425.2" x2="243.4" y2="434.7" stroke="#6a6ab8" stroke-width="0.60" opacity="0.8"/>
<line x1="222.5" y1="425.2" x2="242.2" y2="437.0" stroke="#6a6ab8" stroke-width="0.60" opacity="0.8"/>
<line x1="222.5" y1="425.2" x2="240.7" y2="439.2" stroke="#6a6ab8" stroke-width="0.60" opacity="0.8"/>
<path d="M222.5,425.2 L245,421.5 L241,445 Z" fill="#c8c8ec" opacity="0.35"/>
<path d="M246.8,416.5 L246.8,431 L245,431 L248.3,436 L251.6,431 L249.8,431 L249.8,416.5 Z" fill="#e8eef8" stroke="#8aa0c8" stroke-width="0.60" />
<path d="M249.6,438.8 L255.8,442.8 L254.1,450.7 L245,450.7 L243.4,442.8 Z" fill="none" stroke="#555" stroke-width="0.85" />
<path d="M245,450.7 L254.1,450.7 L257.5,458 L255.2,465.9 L243.9,465.9 L241.1,458 Z" fill="none" stroke="#555" stroke-width="0.85" />
<line x1="243.1" y1="452.3" x2="241.5" y2="456.5" stroke="#555" stroke-width="0.60" />
<line x1="256.1" y1="452.3" x2="257.3" y2="456.5" stroke="#555" stroke-width="0.60" />
<path d="M241.1,458 L233.8,458 L231.5,465.3 L237.7,469.8 L243.9,465.9" fill="none" stroke="#555" stroke-width="0.85" />
<path d="M257.5,458 L265.4,458 L267.6,465.3 L261.4,469.8 L255.2,465.9" fill="none" stroke="#555" stroke-width="0.85" />
<line x1="234.5" y1="459.4" x2="232.7" y2="464.8" stroke="#555" stroke-width="0.50" />
<line x1="264.7" y1="459.4" x2="266.4" y2="464.8" stroke="#555" stroke-width="0.50" />
<line x1="231.5" y1="465.3" x2="225.2" y2="467.6" stroke="#555" stroke-width="0.85" />
<line x1="267.6" y1="465.3" x2="274.0" y2="467.6" stroke="#555" stroke-width="0.85" />
<path d="M243.9,465.9 L245.4,472.8 L247,472.4 Z" fill="#222" stroke="#222" stroke-width="0.40" />
<path d="M255.2,465.9 L252.6,472.4 L254.2,472.8 Z" fill="#222" stroke="#222" stroke-width="0.40" />
<text x="222.5" y="469.4" font-family="Liberation Sans" font-size="3.60" font-weight="normal" fill="#555" text-anchor="middle"  >Cl</text>
<text x="276.6" y="469.4" font-family="Liberation Sans" font-size="3.60" font-weight="normal" fill="#555" text-anchor="middle"  >Cl</text>
<text x="237.7" y="473.0" font-family="Liberation Sans" font-size="3.00" font-weight="normal" fill="#555" text-anchor="middle"  >S</text>
<text x="261.4" y="473.0" font-family="Liberation Sans" font-size="3.00" font-weight="normal" fill="#555" text-anchor="middle"  >S</text>
<defs><linearGradient id="daeg" x1="0" y1="0" x2="1" y2="0"><stop offset="0" stop-color="#e8dce6"/><stop offset="0.5" stop-color="#f3e4dc"/><stop offset="1" stop-color="#efe2dc"/></linearGradient>
<linearGradient id="edg" x1="0" y1="0" x2="0" y2="1"><stop offset="0" stop-color="#e4edf4"/><stop offset="1" stop-color="#d8e4ee"/></linearGradient></defs>
<path d="M294.8,399.8 L364.0,405.5 L366.8,424.6 L284.4,414.2 Z" fill="url(#edg)" stroke="#b4c4d4" stroke-width="0.50" />
<path d="M284.4,414.2 L366.8,424.6" fill="none" stroke="#9aaabb" stroke-width="0.80" />
<line x1="302.0" y1="404.6" x2="307.6" y2="411.0" stroke="#555" stroke-width="0.60" />
<line x1="307.6" y1="411.0" x2="323.6" y2="407.8" stroke="#555" stroke-width="0.60" />
<line x1="323.6" y1="407.8" x2="329.2" y2="415.0" stroke="#555" stroke-width="0.60" />
<line x1="329.2" y1="415.0" x2="343.6" y2="408.6" stroke="#555" stroke-width="0.60" />
<line x1="343.6" y1="408.6" x2="352.4" y2="417.4" stroke="#555" stroke-width="0.60" />
<path d="M306.1,404.6 L304.1,408.2 L299.9,408.2 L297.9,404.6 L299.9,401.0 L304.1,401.0 Z" fill="none" stroke="#4a4a4a" stroke-width="0.70" />
<circle cx="306.1" cy="404.6" r="0.8" fill="#c4c42a" stroke="none" stroke-width="1.00" />
<circle cx="304.1" cy="408.2" r="0.8" fill="#3a4ab0" stroke="none" stroke-width="1.00" />
<circle cx="299.9" cy="408.2" r="0.8" fill="#c4c42a" stroke="none" stroke-width="1.00" />
<circle cx="297.9" cy="404.6" r="0.8" fill="#3a4ab0" stroke="none" stroke-width="1.00" />
<circle cx="299.9" cy="401.0" r="0.8" fill="#c4c42a" stroke="none" stroke-width="1.00" />
<circle cx="304.1" cy="401.0" r="0.8" fill="#3a4ab0" stroke="none" stroke-width="1.00" />
<path d="M311.7,411.0 L309.7,414.6 L305.6,414.6 L303.5,411.0 L305.6,407.4 L309.7,407.4 Z" fill="none" stroke="#4a4a4a" stroke-width="0.70" />
<circle cx="311.7" cy="411.0" r="0.8" fill="#c4c42a" stroke="none" stroke-width="1.00" />
<circle cx="309.7" cy="414.6" r="0.8" fill="#3a4ab0" stroke="none" stroke-width="1.00" />
<circle cx="305.6" cy="414.6" r="0.8" fill="#c4c42a" stroke="none" stroke-width="1.00" />
<circle cx="303.5" cy="411.0" r="0.8" fill="#3a4ab0" stroke="none" stroke-width="1.00" />
<circle cx="305.6" cy="407.4" r="0.8" fill="#c4c42a" stroke="none" stroke-width="1.00" />
<circle cx="309.7" cy="407.4" r="0.8" fill="#3a4ab0" stroke="none" stroke-width="1.00" />
<path d="M327.7,407.8 L325.7,411.4 L321.6,411.4 L319.5,407.8 L321.6,404.2 L325.7,404.2 Z" fill="none" stroke="#4a4a4a" stroke-width="0.70" />
<circle cx="327.7" cy="407.8" r="0.8" fill="#c4c42a" stroke="none" stroke-width="1.00" />
<circle cx="325.7" cy="411.4" r="0.8" fill="#3a4ab0" stroke="none" stroke-width="1.00" />
<circle cx="321.6" cy="411.4" r="0.8" fill="#c4c42a" stroke="none" stroke-width="1.00" />
<circle cx="319.5" cy="407.8" r="0.8" fill="#3a4ab0" stroke="none" stroke-width="1.00" />
<circle cx="321.6" cy="404.2" r="0.8" fill="#c4c42a" stroke="none" stroke-width="1.00" />
<circle cx="325.7" cy="404.2" r="0.8" fill="#3a4ab0" stroke="none" stroke-width="1.00" />
<path d="M333.3,415.0 L331.2,418.6 L327.1,418.6 L325.1,415.0 L327.1,411.4 L331.2,411.4 Z" fill="none" stroke="#4a4a4a" stroke-width="0.70" />
<circle cx="333.3" cy="415.0" r="0.8" fill="#c4c42a" stroke="none" stroke-width="1.00" />
<circle cx="331.2" cy="418.6" r="0.8" fill="#3a4ab0" stroke="none" stroke-width="1.00" />
<circle cx="327.1" cy="418.6" r="0.8" fill="#c4c42a" stroke="none" stroke-width="1.00" />
<circle cx="325.1" cy="415.0" r="0.8" fill="#3a4ab0" stroke="none" stroke-width="1.00" />
<circle cx="327.1" cy="411.4" r="0.8" fill="#c4c42a" stroke="none" stroke-width="1.00" />
<circle cx="331.2" cy="411.4" r="0.8" fill="#3a4ab0" stroke="none" stroke-width="1.00" />
<path d="M347.7,408.6 L345.7,412.2 L341.6,412.2 L339.5,408.6 L341.6,405.0 L345.7,405.0 Z" fill="none" stroke="#4a4a4a" stroke-width="0.70" />
<circle cx="347.7" cy="408.6" r="0.8" fill="#c4c42a" stroke="none" stroke-width="1.00" />
<circle cx="345.7" cy="412.2" r="0.8" fill="#3a4ab0" stroke="none" stroke-width="1.00" />
<circle cx="341.6" cy="412.2" r="0.8" fill="#c4c42a" stroke="none" stroke-width="1.00" />
<circle cx="339.5" cy="408.6" r="0.8" fill="#3a4ab0" stroke="none" stroke-width="1.00" />
<circle cx="341.6" cy="405.0" r="0.8" fill="#c4c42a" stroke="none" stroke-width="1.00" />
<circle cx="345.7" cy="405.0" r="0.8" fill="#3a4ab0" stroke="none" stroke-width="1.00" />
<path d="M356.5,417.4 L354.4,421.0 L350.3,421.0 L348.3,417.4 L350.3,413.8 L354.4,413.8 Z" fill="none" stroke="#4a4a4a" stroke-width="0.70" />
<circle cx="356.5" cy="417.4" r="0.8" fill="#c4c42a" stroke="none" stroke-width="1.00" />
<circle cx="354.4" cy="421.0" r="0.8" fill="#3a4ab0" stroke="none" stroke-width="1.00" />
<circle cx="350.3" cy="421.0" r="0.8" fill="#c4c42a" stroke="none" stroke-width="1.00" />
<circle cx="348.3" cy="417.4" r="0.8" fill="#3a4ab0" stroke="none" stroke-width="1.00" />
<circle cx="350.3" cy="413.8" r="0.8" fill="#c4c42a" stroke="none" stroke-width="1.00" />
<circle cx="354.4" cy="413.8" r="0.8" fill="#3a4ab0" stroke="none" stroke-width="1.00" />
<path d="M306.2,384.5 L339.7,387.0 L336.5,396.8 L301.3,394.4 Z" fill="url(#daeg)" stroke="#c8b8b8" stroke-width="0.50" />
<path d="M316.0,390.0 L314.5,392.6 L311.5,392.6 L310.0,390.0 L311.5,387.4 L314.5,387.4 Z" fill="none" stroke="#4a4a4a" stroke-width="0.70" />
<circle cx="316.0" cy="390.0" r="0.8" fill="#c4c42a" stroke="none" stroke-width="1.00" />
<circle cx="314.5" cy="392.6" r="0.8" fill="#3a4ab0" stroke="none" stroke-width="1.00" />
<circle cx="311.5" cy="392.6" r="0.8" fill="#c4c42a" stroke="none" stroke-width="1.00" />
<circle cx="310.0" cy="390.0" r="0.8" fill="#3a4ab0" stroke="none" stroke-width="1.00" />
<circle cx="311.5" cy="387.4" r="0.8" fill="#c4c42a" stroke="none" stroke-width="1.00" />
<circle cx="314.5" cy="387.4" r="0.8" fill="#3a4ab0" stroke="none" stroke-width="1.00" />
<path d="M325.0,391.0 L323.5,393.6 L320.5,393.6 L319.0,391.0 L320.5,388.4 L323.5,388.4 Z" fill="none" stroke="#4a4a4a" stroke-width="0.70" />
<circle cx="325.0" cy="391.0" r="0.8" fill="#c4c42a" stroke="none" stroke-width="1.00" />
<circle cx="323.5" cy="393.6" r="0.8" fill="#3a4ab0" stroke="none" stroke-width="1.00" />
<circle cx="320.5" cy="393.6" r="0.8" fill="#c4c42a" stroke="none" stroke-width="1.00" />
<circle cx="319.0" cy="391.0" r="0.8" fill="#3a4ab0" stroke="none" stroke-width="1.00" />
<circle cx="320.5" cy="388.4" r="0.8" fill="#c4c42a" stroke="none" stroke-width="1.00" />
<circle cx="323.5" cy="388.4" r="0.8" fill="#3a4ab0" stroke="none" stroke-width="1.00" />
<path d="M333.0,392.0 L331.5,394.6 L328.5,394.6 L327.0,392.0 L328.5,389.4 L331.5,389.4 Z" fill="none" stroke="#4a4a4a" stroke-width="0.70" />
<circle cx="333.0" cy="392.0" r="0.8" fill="#c4c42a" stroke="none" stroke-width="1.00" />
<circle cx="331.5" cy="394.6" r="0.8" fill="#3a4ab0" stroke="none" stroke-width="1.00" />
<circle cx="328.5" cy="394.6" r="0.8" fill="#c4c42a" stroke="none" stroke-width="1.00" />
<circle cx="327.0" cy="392.0" r="0.8" fill="#3a4ab0" stroke="none" stroke-width="1.00" />
<circle cx="328.5" cy="389.4" r="0.8" fill="#c4c42a" stroke="none" stroke-width="1.00" />
<circle cx="331.5" cy="389.4" r="0.8" fill="#3a4ab0" stroke="none" stroke-width="1.00" />
<rect x="311.5" y="394.0" width="4.0" height="14.0" fill="#a8a0e0" stroke="none" stroke-width="1.00" opacity="0.55"/>
<rect x="318.0" y="394.0" width="4.0" height="14.0" fill="#a8a0e0" stroke="none" stroke-width="1.00" opacity="0.55"/>
<rect x="324.5" y="394.0" width="4.0" height="14.0" fill="#a8a0e0" stroke="none" stroke-width="1.00" opacity="0.55"/>
<text x="344.6" y="387.0" font-family="Liberation Sans" font-size="4.50" font-weight="normal" fill="#444" text-anchor="start"  >0-type coupling</text>
<text x="310.3" y="387.2" font-family="Liberation Sans" font-size="4.60" font-weight="normal" fill="#333" text-anchor="start"  >DAE</text>
<text x="285.7" y="414.0" font-family="Liberation Sans" font-size="4.60" font-weight="normal" fill="#333" text-anchor="start"  >6EDOT</text>
<path d="M295.5,446.3 L360.2,452.0 L361.8,469.2 L283.3,460.2 Z" fill="url(#edg)" stroke="#b4c4d4" stroke-width="0.50" />
<path d="M283.3,460.2 L361.8,469.2" fill="none" stroke="#9aaabb" stroke-width="0.80" />
<line x1="301.3" y1="449.8" x2="305.4" y2="456.1" stroke="#555" stroke-width="0.60" />
<line x1="305.4" y1="456.1" x2="318.5" y2="453.0" stroke="#555" stroke-width="0.60" />
<line x1="318.5" y1="453.0" x2="327.5" y2="458.6" stroke="#555" stroke-width="0.60" />
<line x1="327.5" y1="458.6" x2="340.6" y2="454.5" stroke="#555" stroke-width="0.60" />
<line x1="340.6" y1="454.5" x2="348.7" y2="461.0" stroke="#555" stroke-width="0.60" />
<path d="M305.4,449.8 L303.4,453.4 L299.2,453.4 L297.2,449.8 L299.2,446.2 L303.4,446.2 Z" fill="none" stroke="#4a4a4a" stroke-width="0.70" />
<circle cx="305.4" cy="449.8" r="0.8" fill="#c4c42a" stroke="none" stroke-width="1.00" />
<circle cx="303.4" cy="453.4" r="0.8" fill="#3a4ab0" stroke="none" stroke-width="1.00" />
<circle cx="299.2" cy="453.4" r="0.8" fill="#c4c42a" stroke="none" stroke-width="1.00" />
<circle cx="297.2" cy="449.8" r="0.8" fill="#3a4ab0" stroke="none" stroke-width="1.00" />
<circle cx="299.2" cy="446.2" r="0.8" fill="#c4c42a" stroke="none" stroke-width="1.00" />
<circle cx="303.4" cy="446.2" r="0.8" fill="#3a4ab0" stroke="none" stroke-width="1.00" />
<path d="M309.5,456.1 L307.4,459.7 L303.3,459.7 L301.3,456.1 L303.3,452.5 L307.4,452.5 Z" fill="none" stroke="#4a4a4a" stroke-width="0.70" />
<circle cx="309.5" cy="456.1" r="0.8" fill="#c4c42a" stroke="none" stroke-width="1.00" />
<circle cx="307.4" cy="459.7" r="0.8" fill="#3a4ab0" stroke="none" stroke-width="1.00" />
<circle cx="303.3" cy="459.7" r="0.8" fill="#c4c42a" stroke="none" stroke-width="1.00" />
<circle cx="301.3" cy="456.1" r="0.8" fill="#3a4ab0" stroke="none" stroke-width="1.00" />
<circle cx="303.3" cy="452.5" r="0.8" fill="#c4c42a" stroke="none" stroke-width="1.00" />
<circle cx="307.4" cy="452.5" r="0.8" fill="#3a4ab0" stroke="none" stroke-width="1.00" />
<path d="M322.6,453.0 L320.6,456.6 L316.4,456.6 L314.4,453.0 L316.4,449.4 L320.6,449.4 Z" fill="none" stroke="#4a4a4a" stroke-width="0.70" />
<circle cx="322.6" cy="453.0" r="0.8" fill="#c4c42a" stroke="none" stroke-width="1.00" />
<circle cx="320.6" cy="456.6" r="0.8" fill="#3a4ab0" stroke="none" stroke-width="1.00" />
<circle cx="316.4" cy="456.6" r="0.8" fill="#c4c42a" stroke="none" stroke-width="1.00" />
<circle cx="314.4" cy="453.0" r="0.8" fill="#3a4ab0" stroke="none" stroke-width="1.00" />
<circle cx="316.4" cy="449.4" r="0.8" fill="#c4c42a" stroke="none" stroke-width="1.00" />
<circle cx="320.6" cy="449.4" r="0.8" fill="#3a4ab0" stroke="none" stroke-width="1.00" />
<path d="M331.6,458.6 L329.6,462.2 L325.4,462.2 L323.4,458.6 L325.4,455.0 L329.6,455.0 Z" fill="none" stroke="#4a4a4a" stroke-width="0.70" />
<circle cx="331.6" cy="458.6" r="0.8" fill="#c4c42a" stroke="none" stroke-width="1.00" />
<circle cx="329.6" cy="462.2" r="0.8" fill="#3a4ab0" stroke="none" stroke-width="1.00" />
<circle cx="325.4" cy="462.2" r="0.8" fill="#c4c42a" stroke="none" stroke-width="1.00" />
<circle cx="323.4" cy="458.6" r="0.8" fill="#3a4ab0" stroke="none" stroke-width="1.00" />
<circle cx="325.4" cy="455.0" r="0.8" fill="#c4c42a" stroke="none" stroke-width="1.00" />
<circle cx="329.6" cy="455.0" r="0.8" fill="#3a4ab0" stroke="none" stroke-width="1.00" />
<path d="M344.7,454.5 L342.7,458.1 L338.6,458.1 L336.5,454.5 L338.6,450.9 L342.7,450.9 Z" fill="none" stroke="#4a4a4a" stroke-width="0.70" />
<circle cx="344.7" cy="454.5" r="0.8" fill="#c4c42a" stroke="none" stroke-width="1.00" />
<circle cx="342.7" cy="458.1" r="0.8" fill="#3a4ab0" stroke="none" stroke-width="1.00" />
<circle cx="338.6" cy="458.1" r="0.8" fill="#c4c42a" stroke="none" stroke-width="1.00" />
<circle cx="336.5" cy="454.5" r="0.8" fill="#3a4ab0" stroke="none" stroke-width="1.00" />
<circle cx="338.6" cy="450.9" r="0.8" fill="#c4c42a" stroke="none" stroke-width="1.00" />
<circle cx="342.7" cy="450.9" r="0.8" fill="#3a4ab0" stroke="none" stroke-width="1.00" />
<path d="M352.8,461.0 L350.8,464.6 L346.6,464.6 L344.6,461.0 L346.6,457.4 L350.8,457.4 Z" fill="none" stroke="#4a4a4a" stroke-width="0.70" />
<circle cx="352.8" cy="461.0" r="0.8" fill="#c4c42a" stroke="none" stroke-width="1.00" />
<circle cx="350.8" cy="464.6" r="0.8" fill="#3a4ab0" stroke="none" stroke-width="1.00" />
<circle cx="346.6" cy="464.6" r="0.8" fill="#c4c42a" stroke="none" stroke-width="1.00" />
<circle cx="344.6" cy="461.0" r="0.8" fill="#3a4ab0" stroke="none" stroke-width="1.00" />
<circle cx="346.6" cy="457.4" r="0.8" fill="#c4c42a" stroke="none" stroke-width="1.00" />
<circle cx="350.8" cy="457.4" r="0.8" fill="#3a4ab0" stroke="none" stroke-width="1.00" />
<path d="M310.3,431.5 L336.5,434.8 L334.0,442.2 L300.5,440.5 Z" fill="url(#daeg)" stroke="#c8b8b8" stroke-width="0.50" />
<path d="M321.0,436.5 L319.5,439.1 L316.5,439.1 L315.0,436.5 L316.5,433.9 L319.5,433.9 Z" fill="none" stroke="#4a4a4a" stroke-width="0.70" />
<circle cx="321.0" cy="436.5" r="0.8" fill="#c4c42a" stroke="none" stroke-width="1.00" />
<circle cx="319.5" cy="439.1" r="0.8" fill="#3a4ab0" stroke="none" stroke-width="1.00" />
<circle cx="316.5" cy="439.1" r="0.8" fill="#c4c42a" stroke="none" stroke-width="1.00" />
<circle cx="315.0" cy="436.5" r="0.8" fill="#3a4ab0" stroke="none" stroke-width="1.00" />
<circle cx="316.5" cy="433.9" r="0.8" fill="#c4c42a" stroke="none" stroke-width="1.00" />
<circle cx="319.5" cy="433.9" r="0.8" fill="#3a4ab0" stroke="none" stroke-width="1.00" />
<path d="M329.0,437.5 L327.5,440.1 L324.5,440.1 L323.0,437.5 L324.5,434.9 L327.5,434.9 Z" fill="none" stroke="#4a4a4a" stroke-width="0.70" />
<circle cx="329.0" cy="437.5" r="0.8" fill="#c4c42a" stroke="none" stroke-width="1.00" />
<circle cx="327.5" cy="440.1" r="0.8" fill="#3a4ab0" stroke="none" stroke-width="1.00" />
<circle cx="324.5" cy="440.1" r="0.8" fill="#c4c42a" stroke="none" stroke-width="1.00" />
<circle cx="323.0" cy="437.5" r="0.8" fill="#3a4ab0" stroke="none" stroke-width="1.00" />
<circle cx="324.5" cy="434.9" r="0.8" fill="#c4c42a" stroke="none" stroke-width="1.00" />
<circle cx="327.5" cy="434.9" r="0.8" fill="#3a4ab0" stroke="none" stroke-width="1.00" />
<rect x="315.2" y="438.0" width="7.4" height="17.0" fill="#a8a0e0" stroke="none" stroke-width="1.00" opacity="0.55"/>
<text x="341.4" y="435.5" font-family="Liberation Sans" font-size="4.50" font-weight="normal" fill="#444" text-anchor="start"  >1-type coupling</text>
<text x="303.0" y="441.3" font-family="Liberation Sans" font-size="4.60" font-weight="normal" fill="#333" text-anchor="start"  >DAE</text>
<text x="285.0" y="457.8" font-family="Liberation Sans" font-size="4.60" font-weight="normal" fill="#333" text-anchor="start"  >6EDOT</text>
<defs>
<linearGradient id="cbar" x1="0" y1="0" x2="1" y2="0"><stop offset="0" stop-color="#3c3c98"/><stop offset="0.25" stop-color="#8a8ac4"/><stop offset="0.5" stop-color="#f4f0f4"/><stop offset="0.75" stop-color="#f0c8b0"/><stop offset="1" stop-color="#d87850"/></linearGradient>
<radialGradient id="bl1" cx="0.4" cy="0.35" r="0.6"><stop offset="0" stop-color="#f8c4c4"/><stop offset="0.6" stop-color="#e46a70"/><stop offset="1" stop-color="#c04858"/></radialGradient>
<radialGradient id="bl2" cx="0.4" cy="0.35" r="0.6"><stop offset="0" stop-color="#e8b0d0"/><stop offset="0.6" stop-color="#a068b8"/><stop offset="1" stop-color="#7048a0"/></radialGradient>
<radialGradient id="bl3" cx="0.4" cy="0.35" r="0.6"><stop offset="0" stop-color="#fce4e0"/><stop offset="0.6" stop-color="#f0a8a8"/><stop offset="1" stop-color="#d07878"/></radialGradient>
<radialGradient id="bl4" cx="0.4" cy="0.35" r="0.6"><stop offset="0" stop-color="#fad8c8"/><stop offset="0.6" stop-color="#e0a090"/><stop offset="1" stop-color="#a06858"/></radialGradient>
</defs>
<rect x="399.0" y="382.0" width="67.0" height="45.0" fill="#fdf1f5" stroke="none" stroke-width="1.00" />
<g opacity="0.95">
<circle cx="412.7" cy="417.3" r="6.5" fill="url(#bl4)" stroke="#8a5a60" stroke-width="0.35" />
<circle cx="407.0" cy="411.6" r="5.5" fill="url(#bl2)" stroke="#8a5a60" stroke-width="0.35" />
<circle cx="417.6" cy="414.8" r="6.0" fill="url(#bl3)" stroke="#8a5a60" stroke-width="0.35" />
<circle cx="422.6" cy="418.9" r="5.0" fill="url(#bl3)" stroke="#8a5a60" stroke-width="0.35" />
<circle cx="411.1" cy="402.5" r="5.0" fill="url(#bl1)" stroke="#8a5a60" stroke-width="0.35" />
<circle cx="418.5" cy="394.4" r="5.0" fill="url(#bl3)" stroke="#8a5a60" stroke-width="0.35" />
<circle cx="425.0" cy="393.5" r="5.0" fill="url(#bl3)" stroke="#8a5a60" stroke-width="0.35" />
<circle cx="429.1" cy="400.1" r="5.5" fill="url(#bl3)" stroke="#8a5a60" stroke-width="0.35" />
<circle cx="420.9" cy="402.5" r="5.5" fill="url(#bl3)" stroke="#8a5a60" stroke-width="0.35" />
<circle cx="415.2" cy="399.3" r="4.5" fill="url(#bl1)" stroke="#8a5a60" stroke-width="0.35" />
<circle cx="434.0" cy="395.2" r="4.5" fill="url(#bl3)" stroke="#8a5a60" stroke-width="0.35" />
<circle cx="427.5" cy="410.7" r="5.0" fill="url(#bl1)" stroke="#8a5a60" stroke-width="0.35" />
<circle cx="436.5" cy="404.2" r="5.0" fill="url(#bl2)" stroke="#8a5a60" stroke-width="0.35" />
<circle cx="440.6" cy="399.3" r="4.5" fill="url(#bl2)" stroke="#8a5a60" stroke-width="0.35" />
<circle cx="435.6" cy="411.6" r="5.0" fill="url(#bl1)" stroke="#8a5a60" stroke-width="0.35" />
<circle cx="441.4" cy="409.9" r="4.5" fill="url(#bl1)" stroke="#8a5a60" stroke-width="0.35" />
<circle cx="443.8" cy="404.2" r="4.0" fill="url(#bl2)" stroke="#8a5a60" stroke-width="0.35" />
<circle cx="445.5" cy="397.6" r="4.0" fill="url(#bl1)" stroke="#8a5a60" stroke-width="0.35" />
<circle cx="448.7" cy="402.5" r="4.5" fill="url(#bl2)" stroke="#8a5a60" stroke-width="0.35" />
<circle cx="452.8" cy="402.5" r="4.5" fill="url(#bl4)" stroke="#8a5a60" stroke-width="0.35" />
<circle cx="456.9" cy="394.4" r="5.0" fill="url(#bl1)" stroke="#8a5a60" stroke-width="0.35" />
<circle cx="461.8" cy="392.7" r="4.5" fill="url(#bl1)" stroke="#8a5a60" stroke-width="0.35" />
<circle cx="460.2" cy="404.2" r="4.0" fill="url(#bl4)" stroke="#8a5a60" stroke-width="0.35" />
<circle cx="462.7" cy="399.3" r="3.5" fill="url(#bl1)" stroke="#8a5a60" stroke-width="0.35" />
<circle cx="432.4" cy="417.3" r="4.5" fill="url(#bl4)" stroke="#8a5a60" stroke-width="0.35" />
<circle cx="424.2" cy="409.1" r="4.5" fill="url(#bl3)" stroke="#8a5a60" stroke-width="0.35" />
</g>
<text x="406.0" y="394.0" font-family="Liberation Sans" font-size="4.30" font-weight="normal" fill="#444" text-anchor="middle"  >DAE</text>
<path d="M405,397 a4,4 0 1,0 4,-3" fill="none" stroke="#777" stroke-width="0.70" />
<text x="388.0" y="404.0" font-family="Liberation Sans" font-size="4.20" font-weight="normal" fill="#d06a6a" text-anchor="middle"  >Polaron</text>
<text x="388.0" y="408.8" font-family="Liberation Sans" font-size="4.20" font-weight="normal" fill="#d06a6a" text-anchor="middle"  >interface</text>
<ellipse cx="390" cy="412.4" rx="4.5" ry="1.7" fill="#c8a070"/>
<line x1="395.0" y1="410.5" x2="408.0" y2="405.0" stroke="#d07070" stroke-width="0.40" />
<text x="452.0" y="419.0" font-family="Liberation Sans" font-size="4.30" font-weight="normal" fill="#333" text-anchor="middle"  >EDOT</text>
<path d="M439.7,382.7 L445.8,391.3 L433.6,391.3 Z" fill="#f4f6e4" stroke="#c8c8a8" stroke-width="0.40" />
<text x="439.7" y="390.0" font-family="Liberation Sans" font-size="4.20" font-weight="normal" fill="#555" text-anchor="middle"  >0</text>
<line x1="436.0" y1="391.5" x2="430.0" y2="398.0" stroke="#d07070" stroke-width="0.40" />
<rect x="399.6" y="426.3" width="54.0" height="5.0" fill="url(#cbar)" stroke="none" stroke-width="1.00" />
<text x="407.0" y="430.4" font-family="Liberation Sans" font-size="3.60" font-weight="normal" fill="#fff" text-anchor="middle"  >-20 meV</text>
<text x="446.0" y="430.4" font-family="Liberation Sans" font-size="3.60" font-weight="normal" fill="#fff" text-anchor="middle"  >20 meV</text>
<rect x="390.8" y="437.5" width="65.2" height="34.0" fill="#bfd9ee" stroke="none" stroke-width="1.00" rx="2.2"/>
<rect x="400.3" y="447.5" width="16.0" height="6.5" fill="#f4d4e4" stroke="none" stroke-width="1.00" />
<rect x="432.3" y="447.5" width="16.0" height="6.5" fill="#f4d4e4" stroke="none" stroke-width="1.00" />
<rect x="420.6" y="454.5" width="16.0" height="5.0" fill="#f4d4e4" stroke="none" stroke-width="1.00" />
<path d="M408.8,440.2 L416.8,453.3 L400.8,453.3 Z" fill="#eef6e6" stroke="none" stroke-width="1.00" />
<text x="408.8" y="448.3" font-family="Liberation Sans" font-size="4.40" font-weight="normal" fill="#444" text-anchor="middle"  >0</text>
<path d="M440.3,440.2 L448.3,453.3 L432.3,453.3 Z" fill="#eef6e6" stroke="none" stroke-width="1.00" />
<text x="440.3" y="448.3" font-family="Liberation Sans" font-size="4.40" font-weight="normal" fill="#444" text-anchor="middle"  >0</text>
<path d="M420.6,455.0 L436.6,455.0 L428.6,469.3 Z" fill="#eef6e6" stroke="none" stroke-width="1.00" />
<text x="428.6" y="462.9" font-family="Liberation Sans" font-size="4.40" font-weight="normal" fill="#444" text-anchor="middle"  >0</text>
<ellipse cx="408.8" cy="451.1" rx="6.5" ry="2.2" fill="#b39a62"/>
<ellipse cx="440.3" cy="451.1" rx="6.5" ry="2.2" fill="#b39a62"/>
<ellipse cx="428.6" cy="456.5" rx="5.0" ry="2.0" fill="#b39a62"/>
<line x1="394.5" y1="454.0" x2="454.8" y2="454.0" stroke="#3a5a98" stroke-width="0.90" />
<text x="393.7" y="459.3" font-family="Liberation Sans" font-size="4.50" font-weight="normal" fill="#223" text-anchor="start"  >6 EDOT</text>
<text x="391.5" y="470.0" font-family="Liberation Sans" font-size="4.50" font-weight="normal" fill="#9a8a98" text-anchor="start"  >3 DAE-1</text>
<rect x="468.0" y="391.5" width="66.0" height="34.2" fill="#bfd9ee" stroke="none" stroke-width="1.00" rx="2.2"/>
<rect x="481.0" y="397.0" width="11.0" height="8.0" fill="#f4dce4" stroke="none" stroke-width="1.00" />
<rect x="511.8" y="399.5" width="8.0" height="19.5" fill="#f4c4d4" stroke="none" stroke-width="1.00" />
<path d="M478.7,392.7 L493.7,392.7 L486.2,404.8 Z" fill="#eef6e6" stroke="none" stroke-width="1.00" />
<text x="486.2" y="399.4" font-family="Liberation Sans" font-size="4.40" font-weight="normal" fill="#444" text-anchor="middle"  >1</text>
<path d="M508.3,392.7 L523.3,392.7 L515.8,406.2 Z" fill="#eef6e6" stroke="none" stroke-width="1.00" />
<text x="515.8" y="400.1" font-family="Liberation Sans" font-size="4.40" font-weight="normal" fill="#444" text-anchor="middle"  >1</text>
<path d="M515.8,408.2 L523.3,421.0 L508.3,421.0 Z" fill="#eef6e6" stroke="none" stroke-width="1.00" />
<text x="515.8" y="416.1" font-family="Liberation Sans" font-size="4.40" font-weight="normal" fill="#444" text-anchor="middle"  >0</text>
<rect x="511.8" y="399.5" width="8.0" height="19.5" fill="#f4c4d4" stroke="none" stroke-width="1.00" opacity="0.5"/>
<ellipse cx="486.2" cy="404.2" rx="3.0" ry="1.5" fill="#b39a62"/>
<ellipse cx="515.8" cy="407.5" rx="4.5" ry="2.5" fill="#b39a62"/>
<line x1="470.7" y1="407.3" x2="531.3" y2="407.3" stroke="#3a5a98" stroke-width="0.90" />
<text x="469.4" y="413.0" font-family="Liberation Sans" font-size="4.50" font-weight="normal" fill="#223" text-anchor="start"  >6 EDOT</text>
<text x="469.4" y="423.7" font-family="Liberation Sans" font-size="4.50" font-weight="normal" fill="#9a8a98" text-anchor="start"  >3 DAE-2</text>
<rect x="468.0" y="437.5" width="65.0" height="34.0" fill="#bfd9ee" stroke="none" stroke-width="1.00" rx="2.2"/>
<path d="M487.3,441.0 L494.8,453.0 L479.8,453.0 Z" fill="#eef6e6" stroke="none" stroke-width="1.00" />
<text x="487.3" y="448.4" font-family="Liberation Sans" font-size="4.40" font-weight="normal" fill="#444" text-anchor="middle"  >0</text>
<path d="M517.5,440.0 L525.0,453.0 L510.0,453.0 Z" fill="#eef6e6" stroke="none" stroke-width="1.00" />
<text x="517.5" y="448.1" font-family="Liberation Sans" font-size="4.40" font-weight="normal" fill="#444" text-anchor="middle"  >0</text>
<path d="M499.1,455.0 L514.1,455.0 L506.6,469.0 Z" fill="#eef6e6" stroke="none" stroke-width="1.00" />
<text x="506.6" y="462.7" font-family="Liberation Sans" font-size="4.40" font-weight="normal" fill="#444" text-anchor="middle"  >1</text>
<ellipse cx="487.3" cy="451.5" rx="6.0" ry="2.2" fill="#b39a62"/>
<ellipse cx="517.5" cy="451.5" rx="6.0" ry="2.2" fill="#b39a62"/>
<ellipse cx="506.6" cy="455.7" rx="3.5" ry="1.5" fill="#b39a62"/>
<line x1="470.7" y1="453.3" x2="531.0" y2="453.3" stroke="#3a5a98" stroke-width="0.90" />
<text x="472.9" y="459.5" font-family="Liberation Sans" font-size="4.50" font-weight="normal" fill="#223" text-anchor="start"  >6 EDOT</text>
<text x="472.9" y="469.3" font-family="Liberation Sans" font-size="4.50" font-weight="normal" fill="#9a8a98" text-anchor="start"  >3 DAE-3</text>
</svg>
</body></html>
